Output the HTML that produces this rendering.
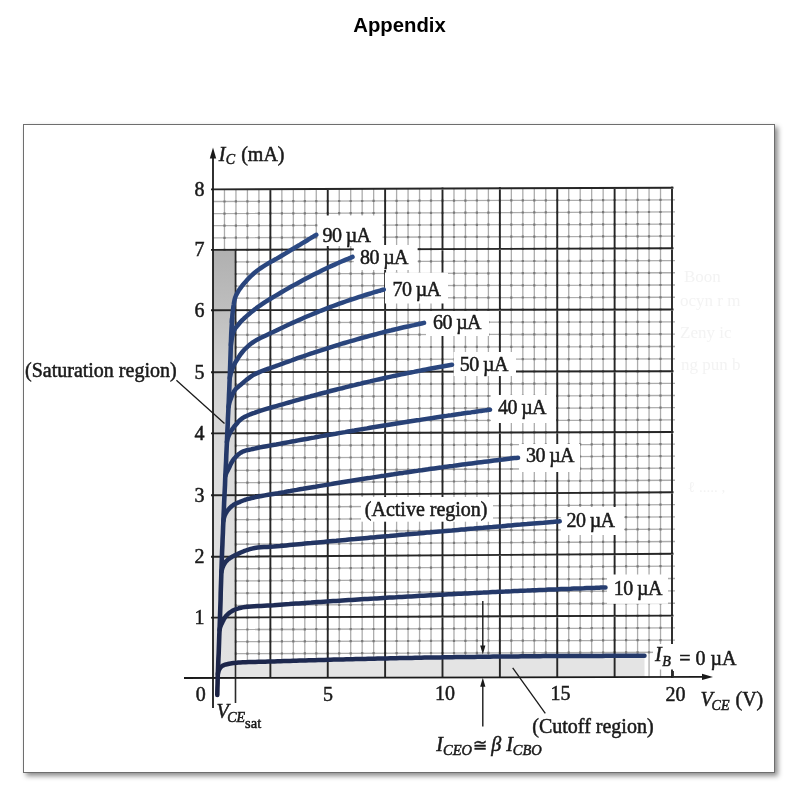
<!DOCTYPE html>
<html><head><meta charset="utf-8">
<style>
html,body{margin:0;padding:0;background:#fff;}
body{width:799px;height:807px;position:relative;overflow:hidden;}
.title{will-change:transform;position:absolute;left:0;top:0;width:799px;text-align:center;font-family:"Liberation Sans",sans-serif;font-weight:bold;font-size:20.3px;line-height:20px;top:15px;color:#000;}
.frame{position:absolute;left:23px;top:124px;width:750px;height:647px;border:1.5px solid #6e6e6e;box-shadow:3px 3px 5px rgba(0,0,0,0.45);background:#fff;}
svg{position:absolute;left:0;top:0;will-change:transform;}
svg text{font-family:"Liberation Serif",serif;fill:#1a1a1a;stroke:#1a1a1a;stroke-width:0.5px;}
svg .ghost text{fill:#f3f3f3;stroke:none;}
</style></head><body>
<div class="title">Appendix</div>
<div class="frame"></div>
<svg width="799" height="807" viewBox="0 0 799 807">
<defs><linearGradient id="sat" x1="0" y1="0" x2="0" y2="1"><stop offset="0" stop-color="#b0b0b0"/><stop offset="0.14" stop-color="#bebebe"/><stop offset="0.28" stop-color="#d0d0d0"/><stop offset="0.5" stop-color="#dcdcdc"/><stop offset="1" stop-color="#e2e2e2"/></linearGradient></defs>
<rect x="213" y="249.9" width="22.5" height="427.9" fill="url(#sat)"/>
<path d="M217.5,677.0 C217.7,676.0 217.9,672.7 218.5,671.0 C219.1,669.3 219.6,668.1 221.0,667.0 C222.4,665.9 223.8,665.2 227.0,664.5 C230.2,663.8 232.9,663.3 240.1,662.8 C247.3,662.3 257.6,661.8 270.1,661.3 C282.6,660.8 290.0,660.3 315.0,659.8 C340.0,659.2 365.1,658.7 420.0,658.0 C474.9,657.3 607.1,656.2 644.5,655.8 L644.5,677.5 L217.5,677.5 Z" fill="#e4e4e4"/>
<path d="M224.47,189.36 V249.86 M235.95,189.32 V662.63 M247.43,189.27 V662.23 M258.90,189.23 V661.85 M281.85,189.15 V661.12 M293.32,189.10 V660.78 M304.80,189.06 V660.44 M316.27,189.02 V660.12 M339.23,188.93 V659.51 M350.70,188.89 V659.22 M362.17,188.85 V658.94 M373.65,188.81 V658.68 M396.60,188.72 V658.19 M408.07,188.68 V657.96 M419.55,188.64 V657.74 M431.02,188.59 V657.53 M453.98,188.51 V657.16 M465.45,188.47 V656.99 M476.93,188.42 V656.83 M488.40,188.38 V656.68 M511.35,188.30 V656.42 M522.83,188.25 V656.31 M534.30,188.21 V656.21 M545.77,188.17 V656.12 M568.72,188.09 V655.98 M580.20,188.04 V655.92 M591.67,188.00 V655.88 M603.15,187.96 V655.85 M626.10,187.87 V655.83 M637.58,187.83 V655.83 M649.05,187.79 V677.50 M660.52,187.75 V677.50 M235.5,653.65 L675,652.25 M235.5,641.60 L675,640.03 M235.5,629.55 L675,627.81 M235.5,605.31 L675,603.23 M235.5,593.12 L675,590.87 M235.5,580.94 L675,578.51 M235.5,568.75 L675,566.15 M235.5,544.26 L675,541.49 M235.5,531.96 L675,529.19 M235.5,519.66 L675,516.89 M235.5,507.36 L675,504.59 M235.5,482.71 L675,480.23 M235.5,470.37 L675,468.17 M235.5,458.02 L675,456.11 M235.5,445.68 L675,444.05 M235.5,421.10 L675,419.83 M235.5,408.86 L675,407.67 M235.5,396.62 L675,395.51 M235.5,384.39 L675,383.36 M235.5,359.75 L675,358.86 M235.5,347.36 L675,346.52 M235.5,334.96 L675,334.18 M235.5,322.56 L675,321.84 M235.5,298.10 L675,297.26 M235.5,286.03 L675,285.02 M235.5,273.96 L675,272.77 M235.5,261.89 L675,260.53 M213.0,237.80 L675,236.17 M213.0,225.70 L675,224.05 M213.0,213.60 L675,211.93 M213.0,201.50 L675,199.81" stroke="#acacac" stroke-width="1.3" fill="none"/>
<path d="M223.4,248.8h2.2v2.2h-2.2zM223.4,236.7h2.2v2.2h-2.2zM223.4,224.6h2.2v2.2h-2.2zM223.4,212.5h2.2v2.2h-2.2zM223.4,200.4h2.2v2.2h-2.2zM234.8,652.5h2.2v2.2h-2.2zM234.8,640.5h2.2v2.2h-2.2zM234.8,628.4h2.2v2.2h-2.2zM234.8,616.4h2.2v2.2h-2.2zM234.8,604.2h2.2v2.2h-2.2zM234.8,592.0h2.2v2.2h-2.2zM234.8,579.8h2.2v2.2h-2.2zM234.8,567.6h2.2v2.2h-2.2zM234.8,555.5h2.2v2.2h-2.2zM234.8,543.2h2.2v2.2h-2.2zM234.8,530.9h2.2v2.2h-2.2zM234.8,518.6h2.2v2.2h-2.2zM234.8,506.3h2.2v2.2h-2.2zM234.8,494.0h2.2v2.2h-2.2zM234.8,481.6h2.2v2.2h-2.2zM234.8,469.3h2.2v2.2h-2.2zM234.8,456.9h2.2v2.2h-2.2zM234.8,444.6h2.2v2.2h-2.2zM234.8,432.2h2.2v2.2h-2.2zM234.8,420.0h2.2v2.2h-2.2zM234.8,407.8h2.2v2.2h-2.2zM234.8,395.5h2.2v2.2h-2.2zM234.8,383.3h2.2v2.2h-2.2zM234.8,371.1h2.2v2.2h-2.2zM234.8,358.7h2.2v2.2h-2.2zM234.8,346.3h2.2v2.2h-2.2zM234.8,333.9h2.2v2.2h-2.2zM234.8,321.5h2.2v2.2h-2.2zM234.8,309.1h2.2v2.2h-2.2zM234.8,297.0h2.2v2.2h-2.2zM234.8,284.9h2.2v2.2h-2.2zM234.8,272.9h2.2v2.2h-2.2zM234.8,260.8h2.2v2.2h-2.2zM234.8,248.7h2.2v2.2h-2.2zM234.8,236.6h2.2v2.2h-2.2zM234.8,224.5h2.2v2.2h-2.2zM234.8,212.4h2.2v2.2h-2.2zM234.8,200.3h2.2v2.2h-2.2zM246.3,652.5h2.2v2.2h-2.2zM246.3,640.5h2.2v2.2h-2.2zM246.3,628.4h2.2v2.2h-2.2zM246.3,616.4h2.2v2.2h-2.2zM246.3,604.2h2.2v2.2h-2.2zM246.3,592.0h2.2v2.2h-2.2zM246.3,579.8h2.2v2.2h-2.2zM246.3,567.6h2.2v2.2h-2.2zM246.3,555.4h2.2v2.2h-2.2zM246.3,543.1h2.2v2.2h-2.2zM246.3,530.8h2.2v2.2h-2.2zM246.3,518.5h2.2v2.2h-2.2zM246.3,506.2h2.2v2.2h-2.2zM246.3,493.9h2.2v2.2h-2.2zM246.3,481.5h2.2v2.2h-2.2zM246.3,469.2h2.2v2.2h-2.2zM246.3,456.9h2.2v2.2h-2.2zM246.3,444.5h2.2v2.2h-2.2zM246.3,432.2h2.2v2.2h-2.2zM246.3,420.0h2.2v2.2h-2.2zM246.3,407.7h2.2v2.2h-2.2zM246.3,395.5h2.2v2.2h-2.2zM246.3,383.3h2.2v2.2h-2.2zM246.3,371.0h2.2v2.2h-2.2zM246.3,358.6h2.2v2.2h-2.2zM246.3,346.2h2.2v2.2h-2.2zM246.3,333.8h2.2v2.2h-2.2zM246.3,321.4h2.2v2.2h-2.2zM246.3,309.0h2.2v2.2h-2.2zM246.3,297.0h2.2v2.2h-2.2zM246.3,284.9h2.2v2.2h-2.2zM246.3,272.8h2.2v2.2h-2.2zM246.3,260.8h2.2v2.2h-2.2zM246.3,248.7h2.2v2.2h-2.2zM246.3,236.6h2.2v2.2h-2.2zM246.3,224.5h2.2v2.2h-2.2zM246.3,212.4h2.2v2.2h-2.2zM246.3,200.3h2.2v2.2h-2.2zM257.8,652.5h2.2v2.2h-2.2zM257.8,640.4h2.2v2.2h-2.2zM257.8,628.4h2.2v2.2h-2.2zM257.8,616.3h2.2v2.2h-2.2zM257.8,604.1h2.2v2.2h-2.2zM257.8,591.9h2.2v2.2h-2.2zM257.8,579.7h2.2v2.2h-2.2zM257.8,567.5h2.2v2.2h-2.2zM257.8,555.3h2.2v2.2h-2.2zM257.8,543.0h2.2v2.2h-2.2zM257.8,530.7h2.2v2.2h-2.2zM257.8,518.4h2.2v2.2h-2.2zM257.8,506.1h2.2v2.2h-2.2zM257.8,493.8h2.2v2.2h-2.2zM257.8,481.5h2.2v2.2h-2.2zM257.8,469.2h2.2v2.2h-2.2zM257.8,456.8h2.2v2.2h-2.2zM257.8,444.5h2.2v2.2h-2.2zM257.8,432.2h2.2v2.2h-2.2zM257.8,419.9h2.2v2.2h-2.2zM257.8,407.7h2.2v2.2h-2.2zM257.8,395.5h2.2v2.2h-2.2zM257.8,383.2h2.2v2.2h-2.2zM257.8,371.0h2.2v2.2h-2.2zM257.8,358.6h2.2v2.2h-2.2zM257.8,346.2h2.2v2.2h-2.2zM257.8,333.8h2.2v2.2h-2.2zM257.8,321.4h2.2v2.2h-2.2zM257.8,309.0h2.2v2.2h-2.2zM257.8,297.0h2.2v2.2h-2.2zM257.8,284.9h2.2v2.2h-2.2zM257.8,272.8h2.2v2.2h-2.2zM257.8,260.7h2.2v2.2h-2.2zM257.8,248.6h2.2v2.2h-2.2zM257.8,236.5h2.2v2.2h-2.2zM257.8,224.4h2.2v2.2h-2.2zM257.8,212.3h2.2v2.2h-2.2zM257.8,200.2h2.2v2.2h-2.2zM269.3,652.4h2.2v2.2h-2.2zM269.3,640.4h2.2v2.2h-2.2zM269.3,628.3h2.2v2.2h-2.2zM269.3,604.0h2.2v2.2h-2.2zM269.3,591.8h2.2v2.2h-2.2zM269.3,579.6h2.2v2.2h-2.2zM269.3,567.4h2.2v2.2h-2.2zM269.3,542.9h2.2v2.2h-2.2zM269.3,530.6h2.2v2.2h-2.2zM269.3,518.3h2.2v2.2h-2.2zM269.3,506.0h2.2v2.2h-2.2zM269.3,481.4h2.2v2.2h-2.2zM269.3,469.1h2.2v2.2h-2.2zM269.3,456.8h2.2v2.2h-2.2zM269.3,444.4h2.2v2.2h-2.2zM269.3,419.9h2.2v2.2h-2.2zM269.3,407.7h2.2v2.2h-2.2zM269.3,395.4h2.2v2.2h-2.2zM269.3,383.2h2.2v2.2h-2.2zM269.3,358.6h2.2v2.2h-2.2zM269.3,346.2h2.2v2.2h-2.2zM269.3,333.8h2.2v2.2h-2.2zM269.3,321.4h2.2v2.2h-2.2zM269.3,296.9h2.2v2.2h-2.2zM269.3,284.8h2.2v2.2h-2.2zM269.3,272.8h2.2v2.2h-2.2zM269.3,260.7h2.2v2.2h-2.2zM269.3,236.5h2.2v2.2h-2.2zM269.3,224.4h2.2v2.2h-2.2zM269.3,212.3h2.2v2.2h-2.2zM269.3,200.2h2.2v2.2h-2.2zM280.8,652.4h2.2v2.2h-2.2zM280.8,640.3h2.2v2.2h-2.2zM280.8,628.3h2.2v2.2h-2.2zM280.8,616.2h2.2v2.2h-2.2zM280.8,604.0h2.2v2.2h-2.2zM280.8,591.8h2.2v2.2h-2.2zM280.8,579.6h2.2v2.2h-2.2zM280.8,567.4h2.2v2.2h-2.2zM280.8,555.2h2.2v2.2h-2.2zM280.8,542.9h2.2v2.2h-2.2zM280.8,530.6h2.2v2.2h-2.2zM280.8,518.3h2.2v2.2h-2.2zM280.8,506.0h2.2v2.2h-2.2zM280.8,493.7h2.2v2.2h-2.2zM280.8,481.4h2.2v2.2h-2.2zM280.8,469.0h2.2v2.2h-2.2zM280.8,456.7h2.2v2.2h-2.2zM280.8,444.4h2.2v2.2h-2.2zM280.8,432.1h2.2v2.2h-2.2zM280.8,419.9h2.2v2.2h-2.2zM280.8,407.6h2.2v2.2h-2.2zM280.8,395.4h2.2v2.2h-2.2zM280.8,383.2h2.2v2.2h-2.2zM280.8,371.0h2.2v2.2h-2.2zM280.8,358.6h2.2v2.2h-2.2zM280.8,346.2h2.2v2.2h-2.2zM280.8,333.8h2.2v2.2h-2.2zM280.8,321.4h2.2v2.2h-2.2zM280.8,309.0h2.2v2.2h-2.2zM280.8,296.9h2.2v2.2h-2.2zM280.8,284.8h2.2v2.2h-2.2zM280.8,272.7h2.2v2.2h-2.2zM280.8,260.6h2.2v2.2h-2.2zM280.8,248.6h2.2v2.2h-2.2zM280.8,236.5h2.2v2.2h-2.2zM280.8,224.4h2.2v2.2h-2.2zM280.8,212.3h2.2v2.2h-2.2zM280.8,200.1h2.2v2.2h-2.2zM292.2,652.4h2.2v2.2h-2.2zM292.2,640.3h2.2v2.2h-2.2zM292.2,628.2h2.2v2.2h-2.2zM292.2,616.2h2.2v2.2h-2.2zM292.2,603.9h2.2v2.2h-2.2zM292.2,591.7h2.2v2.2h-2.2zM292.2,579.5h2.2v2.2h-2.2zM292.2,567.3h2.2v2.2h-2.2zM292.2,555.1h2.2v2.2h-2.2zM292.2,542.8h2.2v2.2h-2.2zM292.2,530.5h2.2v2.2h-2.2zM292.2,518.2h2.2v2.2h-2.2zM292.2,505.9h2.2v2.2h-2.2zM292.2,493.6h2.2v2.2h-2.2zM292.2,481.3h2.2v2.2h-2.2zM292.2,469.0h2.2v2.2h-2.2zM292.2,456.7h2.2v2.2h-2.2zM292.2,444.4h2.2v2.2h-2.2zM292.2,432.1h2.2v2.2h-2.2zM292.2,419.8h2.2v2.2h-2.2zM292.2,407.6h2.2v2.2h-2.2zM292.2,395.4h2.2v2.2h-2.2zM292.2,383.2h2.2v2.2h-2.2zM292.2,370.9h2.2v2.2h-2.2zM292.2,358.5h2.2v2.2h-2.2zM292.2,346.1h2.2v2.2h-2.2zM292.2,333.8h2.2v2.2h-2.2zM292.2,321.4h2.2v2.2h-2.2zM292.2,309.0h2.2v2.2h-2.2zM292.2,296.9h2.2v2.2h-2.2zM292.2,284.8h2.2v2.2h-2.2zM292.2,272.7h2.2v2.2h-2.2zM292.2,260.6h2.2v2.2h-2.2zM292.2,248.5h2.2v2.2h-2.2zM292.2,236.4h2.2v2.2h-2.2zM292.2,224.3h2.2v2.2h-2.2zM292.2,212.2h2.2v2.2h-2.2zM292.2,200.1h2.2v2.2h-2.2zM303.7,652.3h2.2v2.2h-2.2zM303.7,640.3h2.2v2.2h-2.2zM303.7,628.2h2.2v2.2h-2.2zM303.7,616.1h2.2v2.2h-2.2zM303.7,603.9h2.2v2.2h-2.2zM303.7,591.7h2.2v2.2h-2.2zM303.7,579.5h2.2v2.2h-2.2zM303.7,567.2h2.2v2.2h-2.2zM303.7,555.0h2.2v2.2h-2.2zM303.7,542.7h2.2v2.2h-2.2zM303.7,530.4h2.2v2.2h-2.2zM303.7,518.1h2.2v2.2h-2.2zM303.7,505.8h2.2v2.2h-2.2zM303.7,493.5h2.2v2.2h-2.2zM303.7,481.2h2.2v2.2h-2.2zM303.7,468.9h2.2v2.2h-2.2zM303.7,456.6h2.2v2.2h-2.2zM303.7,444.3h2.2v2.2h-2.2zM303.7,432.0h2.2v2.2h-2.2zM303.7,419.8h2.2v2.2h-2.2zM303.7,407.6h2.2v2.2h-2.2zM303.7,395.3h2.2v2.2h-2.2zM303.7,383.1h2.2v2.2h-2.2zM303.7,370.9h2.2v2.2h-2.2zM303.7,358.5h2.2v2.2h-2.2zM303.7,346.1h2.2v2.2h-2.2zM303.7,333.7h2.2v2.2h-2.2zM303.7,321.3h2.2v2.2h-2.2zM303.7,309.0h2.2v2.2h-2.2zM303.7,296.9h2.2v2.2h-2.2zM303.7,284.8h2.2v2.2h-2.2zM303.7,272.7h2.2v2.2h-2.2zM303.7,260.6h2.2v2.2h-2.2zM303.7,248.5h2.2v2.2h-2.2zM303.7,236.4h2.2v2.2h-2.2zM303.7,224.3h2.2v2.2h-2.2zM303.7,212.2h2.2v2.2h-2.2zM303.7,200.1h2.2v2.2h-2.2zM315.2,652.3h2.2v2.2h-2.2zM315.2,640.2h2.2v2.2h-2.2zM315.2,628.1h2.2v2.2h-2.2zM315.2,616.1h2.2v2.2h-2.2zM315.2,603.8h2.2v2.2h-2.2zM315.2,591.6h2.2v2.2h-2.2zM315.2,579.4h2.2v2.2h-2.2zM315.2,567.2h2.2v2.2h-2.2zM315.2,554.9h2.2v2.2h-2.2zM315.2,542.6h2.2v2.2h-2.2zM315.2,530.3h2.2v2.2h-2.2zM315.2,518.0h2.2v2.2h-2.2zM315.2,505.7h2.2v2.2h-2.2zM315.2,493.4h2.2v2.2h-2.2zM315.2,481.2h2.2v2.2h-2.2zM315.2,468.9h2.2v2.2h-2.2zM315.2,456.6h2.2v2.2h-2.2zM315.2,444.3h2.2v2.2h-2.2zM315.2,432.0h2.2v2.2h-2.2zM315.2,419.8h2.2v2.2h-2.2zM315.2,407.5h2.2v2.2h-2.2zM315.2,395.3h2.2v2.2h-2.2zM315.2,383.1h2.2v2.2h-2.2zM315.2,370.9h2.2v2.2h-2.2zM315.2,358.5h2.2v2.2h-2.2zM315.2,346.1h2.2v2.2h-2.2zM315.2,333.7h2.2v2.2h-2.2zM315.2,321.3h2.2v2.2h-2.2zM315.2,308.9h2.2v2.2h-2.2zM315.2,296.8h2.2v2.2h-2.2zM315.2,284.7h2.2v2.2h-2.2zM315.2,272.6h2.2v2.2h-2.2zM315.2,260.5h2.2v2.2h-2.2zM315.2,248.4h2.2v2.2h-2.2zM315.2,236.3h2.2v2.2h-2.2zM315.2,224.2h2.2v2.2h-2.2zM315.2,212.1h2.2v2.2h-2.2zM315.2,200.0h2.2v2.2h-2.2zM326.6,652.3h2.2v2.2h-2.2zM326.6,640.2h2.2v2.2h-2.2zM326.6,628.1h2.2v2.2h-2.2zM326.6,603.8h2.2v2.2h-2.2zM326.6,591.6h2.2v2.2h-2.2zM326.6,579.3h2.2v2.2h-2.2zM326.6,567.1h2.2v2.2h-2.2zM326.6,542.6h2.2v2.2h-2.2zM326.6,530.3h2.2v2.2h-2.2zM326.6,518.0h2.2v2.2h-2.2zM326.6,505.7h2.2v2.2h-2.2zM326.6,481.1h2.2v2.2h-2.2zM326.6,468.8h2.2v2.2h-2.2zM326.6,456.5h2.2v2.2h-2.2zM326.6,444.2h2.2v2.2h-2.2zM326.6,419.7h2.2v2.2h-2.2zM326.6,407.5h2.2v2.2h-2.2zM326.6,395.3h2.2v2.2h-2.2zM326.6,383.1h2.2v2.2h-2.2zM326.6,358.5h2.2v2.2h-2.2zM326.6,346.1h2.2v2.2h-2.2zM326.6,333.7h2.2v2.2h-2.2zM326.6,321.3h2.2v2.2h-2.2zM326.6,296.8h2.2v2.2h-2.2zM326.6,284.7h2.2v2.2h-2.2zM326.6,272.6h2.2v2.2h-2.2zM326.6,260.5h2.2v2.2h-2.2zM326.6,236.3h2.2v2.2h-2.2zM326.6,224.2h2.2v2.2h-2.2zM326.6,212.1h2.2v2.2h-2.2zM326.6,200.0h2.2v2.2h-2.2zM338.1,652.2h2.2v2.2h-2.2zM338.1,640.1h2.2v2.2h-2.2zM338.1,628.0h2.2v2.2h-2.2zM338.1,616.0h2.2v2.2h-2.2zM338.1,603.7h2.2v2.2h-2.2zM338.1,591.5h2.2v2.2h-2.2zM338.1,579.3h2.2v2.2h-2.2zM338.1,567.0h2.2v2.2h-2.2zM338.1,554.8h2.2v2.2h-2.2zM338.1,542.5h2.2v2.2h-2.2zM338.1,530.2h2.2v2.2h-2.2zM338.1,517.9h2.2v2.2h-2.2zM338.1,505.6h2.2v2.2h-2.2zM338.1,493.3h2.2v2.2h-2.2zM338.1,481.0h2.2v2.2h-2.2zM338.1,468.7h2.2v2.2h-2.2zM338.1,456.5h2.2v2.2h-2.2zM338.1,444.2h2.2v2.2h-2.2zM338.1,431.9h2.2v2.2h-2.2zM338.1,419.7h2.2v2.2h-2.2zM338.1,407.5h2.2v2.2h-2.2zM338.1,395.3h2.2v2.2h-2.2zM338.1,383.0h2.2v2.2h-2.2zM338.1,370.8h2.2v2.2h-2.2zM338.1,358.4h2.2v2.2h-2.2zM338.1,346.1h2.2v2.2h-2.2zM338.1,333.7h2.2v2.2h-2.2zM338.1,321.3h2.2v2.2h-2.2zM338.1,308.9h2.2v2.2h-2.2zM338.1,296.8h2.2v2.2h-2.2zM338.1,284.7h2.2v2.2h-2.2zM338.1,272.6h2.2v2.2h-2.2zM338.1,260.5h2.2v2.2h-2.2zM338.1,248.4h2.2v2.2h-2.2zM338.1,236.3h2.2v2.2h-2.2zM338.1,224.1h2.2v2.2h-2.2zM338.1,212.0h2.2v2.2h-2.2zM338.1,199.9h2.2v2.2h-2.2zM349.6,652.2h2.2v2.2h-2.2zM349.6,640.1h2.2v2.2h-2.2zM349.6,628.0h2.2v2.2h-2.2zM349.6,615.9h2.2v2.2h-2.2zM349.6,603.7h2.2v2.2h-2.2zM349.6,591.4h2.2v2.2h-2.2zM349.6,579.2h2.2v2.2h-2.2zM349.6,567.0h2.2v2.2h-2.2zM349.6,554.7h2.2v2.2h-2.2zM349.6,542.4h2.2v2.2h-2.2zM349.6,530.1h2.2v2.2h-2.2zM349.6,517.8h2.2v2.2h-2.2zM349.6,505.5h2.2v2.2h-2.2zM349.6,493.2h2.2v2.2h-2.2zM349.6,481.0h2.2v2.2h-2.2zM349.6,468.7h2.2v2.2h-2.2zM349.6,456.4h2.2v2.2h-2.2zM349.6,444.2h2.2v2.2h-2.2zM349.6,431.9h2.2v2.2h-2.2zM349.6,419.7h2.2v2.2h-2.2zM349.6,407.4h2.2v2.2h-2.2zM349.6,395.2h2.2v2.2h-2.2zM349.6,383.0h2.2v2.2h-2.2zM349.6,370.8h2.2v2.2h-2.2zM349.6,358.4h2.2v2.2h-2.2zM349.6,346.0h2.2v2.2h-2.2zM349.6,333.7h2.2v2.2h-2.2zM349.6,321.3h2.2v2.2h-2.2zM349.6,308.9h2.2v2.2h-2.2zM349.6,296.8h2.2v2.2h-2.2zM349.6,284.7h2.2v2.2h-2.2zM349.6,272.5h2.2v2.2h-2.2zM349.6,260.4h2.2v2.2h-2.2zM349.6,248.3h2.2v2.2h-2.2zM349.6,236.2h2.2v2.2h-2.2zM349.6,224.1h2.2v2.2h-2.2zM349.6,212.0h2.2v2.2h-2.2zM349.6,199.9h2.2v2.2h-2.2zM361.1,652.1h2.2v2.2h-2.2zM361.1,640.0h2.2v2.2h-2.2zM361.1,627.9h2.2v2.2h-2.2zM361.1,615.9h2.2v2.2h-2.2zM361.1,603.6h2.2v2.2h-2.2zM361.1,591.4h2.2v2.2h-2.2zM361.1,579.1h2.2v2.2h-2.2zM361.1,566.9h2.2v2.2h-2.2zM361.1,554.7h2.2v2.2h-2.2zM361.1,542.4h2.2v2.2h-2.2zM361.1,530.1h2.2v2.2h-2.2zM361.1,517.8h2.2v2.2h-2.2zM361.1,505.5h2.2v2.2h-2.2zM361.1,493.2h2.2v2.2h-2.2zM361.1,480.9h2.2v2.2h-2.2zM361.1,468.6h2.2v2.2h-2.2zM361.1,456.4h2.2v2.2h-2.2zM361.1,444.1h2.2v2.2h-2.2zM361.1,431.8h2.2v2.2h-2.2zM361.1,419.6h2.2v2.2h-2.2zM361.1,407.4h2.2v2.2h-2.2zM361.1,395.2h2.2v2.2h-2.2zM361.1,383.0h2.2v2.2h-2.2zM361.1,370.8h2.2v2.2h-2.2zM361.1,358.4h2.2v2.2h-2.2zM361.1,346.0h2.2v2.2h-2.2zM361.1,333.6h2.2v2.2h-2.2zM361.1,321.3h2.2v2.2h-2.2zM361.1,308.9h2.2v2.2h-2.2zM361.1,296.8h2.2v2.2h-2.2zM361.1,284.6h2.2v2.2h-2.2zM361.1,272.5h2.2v2.2h-2.2zM361.1,260.4h2.2v2.2h-2.2zM361.1,248.3h2.2v2.2h-2.2zM361.1,236.2h2.2v2.2h-2.2zM361.1,224.1h2.2v2.2h-2.2zM361.1,212.0h2.2v2.2h-2.2zM361.1,199.9h2.2v2.2h-2.2zM372.5,652.1h2.2v2.2h-2.2zM372.5,640.0h2.2v2.2h-2.2zM372.5,627.9h2.2v2.2h-2.2zM372.5,615.8h2.2v2.2h-2.2zM372.5,603.6h2.2v2.2h-2.2zM372.5,591.3h2.2v2.2h-2.2zM372.5,579.1h2.2v2.2h-2.2zM372.5,566.8h2.2v2.2h-2.2zM372.5,554.6h2.2v2.2h-2.2zM372.5,542.3h2.2v2.2h-2.2zM372.5,530.0h2.2v2.2h-2.2zM372.5,517.7h2.2v2.2h-2.2zM372.5,505.4h2.2v2.2h-2.2zM372.5,493.1h2.2v2.2h-2.2zM372.5,480.8h2.2v2.2h-2.2zM372.5,468.6h2.2v2.2h-2.2zM372.5,456.3h2.2v2.2h-2.2zM372.5,444.1h2.2v2.2h-2.2zM372.5,431.8h2.2v2.2h-2.2zM372.5,419.6h2.2v2.2h-2.2zM372.5,407.4h2.2v2.2h-2.2zM372.5,395.2h2.2v2.2h-2.2zM372.5,383.0h2.2v2.2h-2.2zM372.5,370.8h2.2v2.2h-2.2zM372.5,358.4h2.2v2.2h-2.2zM372.5,346.0h2.2v2.2h-2.2zM372.5,333.6h2.2v2.2h-2.2zM372.5,321.2h2.2v2.2h-2.2zM372.5,308.9h2.2v2.2h-2.2zM372.5,296.7h2.2v2.2h-2.2zM372.5,284.6h2.2v2.2h-2.2zM372.5,272.5h2.2v2.2h-2.2zM372.5,260.4h2.2v2.2h-2.2zM372.5,248.2h2.2v2.2h-2.2zM372.5,236.1h2.2v2.2h-2.2zM372.5,224.0h2.2v2.2h-2.2zM372.5,211.9h2.2v2.2h-2.2zM372.5,199.8h2.2v2.2h-2.2zM384.0,652.1h2.2v2.2h-2.2zM384.0,640.0h2.2v2.2h-2.2zM384.0,627.9h2.2v2.2h-2.2zM384.0,603.5h2.2v2.2h-2.2zM384.0,591.3h2.2v2.2h-2.2zM384.0,579.0h2.2v2.2h-2.2zM384.0,566.8h2.2v2.2h-2.2zM384.0,542.2h2.2v2.2h-2.2zM384.0,529.9h2.2v2.2h-2.2zM384.0,517.6h2.2v2.2h-2.2zM384.0,505.3h2.2v2.2h-2.2zM384.0,480.8h2.2v2.2h-2.2zM384.0,468.5h2.2v2.2h-2.2zM384.0,456.3h2.2v2.2h-2.2zM384.0,444.0h2.2v2.2h-2.2zM384.0,419.6h2.2v2.2h-2.2zM384.0,407.4h2.2v2.2h-2.2zM384.0,395.1h2.2v2.2h-2.2zM384.0,382.9h2.2v2.2h-2.2zM384.0,358.3h2.2v2.2h-2.2zM384.0,346.0h2.2v2.2h-2.2zM384.0,333.6h2.2v2.2h-2.2zM384.0,321.2h2.2v2.2h-2.2zM384.0,296.7h2.2v2.2h-2.2zM384.0,284.6h2.2v2.2h-2.2zM384.0,272.5h2.2v2.2h-2.2zM384.0,260.3h2.2v2.2h-2.2zM384.0,236.1h2.2v2.2h-2.2zM384.0,224.0h2.2v2.2h-2.2zM384.0,211.9h2.2v2.2h-2.2zM384.0,199.8h2.2v2.2h-2.2zM395.5,652.0h2.2v2.2h-2.2zM395.5,639.9h2.2v2.2h-2.2zM395.5,627.8h2.2v2.2h-2.2zM395.5,615.7h2.2v2.2h-2.2zM395.5,603.4h2.2v2.2h-2.2zM395.5,591.2h2.2v2.2h-2.2zM395.5,578.9h2.2v2.2h-2.2zM395.5,566.7h2.2v2.2h-2.2zM395.5,554.4h2.2v2.2h-2.2zM395.5,542.1h2.2v2.2h-2.2zM395.5,529.8h2.2v2.2h-2.2zM395.5,517.5h2.2v2.2h-2.2zM395.5,505.2h2.2v2.2h-2.2zM395.5,492.9h2.2v2.2h-2.2zM395.5,480.7h2.2v2.2h-2.2zM395.5,468.5h2.2v2.2h-2.2zM395.5,456.2h2.2v2.2h-2.2zM395.5,444.0h2.2v2.2h-2.2zM395.5,431.7h2.2v2.2h-2.2zM395.5,419.5h2.2v2.2h-2.2zM395.5,407.3h2.2v2.2h-2.2zM395.5,395.1h2.2v2.2h-2.2zM395.5,382.9h2.2v2.2h-2.2zM395.5,370.7h2.2v2.2h-2.2zM395.5,358.3h2.2v2.2h-2.2zM395.5,345.9h2.2v2.2h-2.2zM395.5,333.6h2.2v2.2h-2.2zM395.5,321.2h2.2v2.2h-2.2zM395.5,308.8h2.2v2.2h-2.2zM395.5,296.7h2.2v2.2h-2.2zM395.5,284.6h2.2v2.2h-2.2zM395.5,272.4h2.2v2.2h-2.2zM395.5,260.3h2.2v2.2h-2.2zM395.5,248.2h2.2v2.2h-2.2zM395.5,236.1h2.2v2.2h-2.2zM395.5,223.9h2.2v2.2h-2.2zM395.5,211.8h2.2v2.2h-2.2zM395.5,199.7h2.2v2.2h-2.2zM407.0,652.0h2.2v2.2h-2.2zM407.0,639.9h2.2v2.2h-2.2zM407.0,627.8h2.2v2.2h-2.2zM407.0,615.7h2.2v2.2h-2.2zM407.0,603.4h2.2v2.2h-2.2zM407.0,591.1h2.2v2.2h-2.2zM407.0,578.9h2.2v2.2h-2.2zM407.0,566.6h2.2v2.2h-2.2zM407.0,554.4h2.2v2.2h-2.2zM407.0,542.1h2.2v2.2h-2.2zM407.0,529.8h2.2v2.2h-2.2zM407.0,517.5h2.2v2.2h-2.2zM407.0,505.2h2.2v2.2h-2.2zM407.0,492.9h2.2v2.2h-2.2zM407.0,480.6h2.2v2.2h-2.2zM407.0,468.4h2.2v2.2h-2.2zM407.0,456.2h2.2v2.2h-2.2zM407.0,443.9h2.2v2.2h-2.2zM407.0,431.7h2.2v2.2h-2.2zM407.0,419.5h2.2v2.2h-2.2zM407.0,407.3h2.2v2.2h-2.2zM407.0,395.1h2.2v2.2h-2.2zM407.0,382.9h2.2v2.2h-2.2zM407.0,370.7h2.2v2.2h-2.2zM407.0,358.3h2.2v2.2h-2.2zM407.0,345.9h2.2v2.2h-2.2zM407.0,333.6h2.2v2.2h-2.2zM407.0,321.2h2.2v2.2h-2.2zM407.0,308.8h2.2v2.2h-2.2zM407.0,296.7h2.2v2.2h-2.2zM407.0,284.5h2.2v2.2h-2.2zM407.0,272.4h2.2v2.2h-2.2zM407.0,260.3h2.2v2.2h-2.2zM407.0,248.1h2.2v2.2h-2.2zM407.0,236.0h2.2v2.2h-2.2zM407.0,223.9h2.2v2.2h-2.2zM407.0,211.8h2.2v2.2h-2.2zM407.0,199.7h2.2v2.2h-2.2zM418.4,652.0h2.2v2.2h-2.2zM418.4,639.8h2.2v2.2h-2.2zM418.4,627.7h2.2v2.2h-2.2zM418.4,615.6h2.2v2.2h-2.2zM418.4,603.3h2.2v2.2h-2.2zM418.4,591.1h2.2v2.2h-2.2zM418.4,578.8h2.2v2.2h-2.2zM418.4,566.6h2.2v2.2h-2.2zM418.4,554.3h2.2v2.2h-2.2zM418.4,542.0h2.2v2.2h-2.2zM418.4,529.7h2.2v2.2h-2.2zM418.4,517.4h2.2v2.2h-2.2zM418.4,505.1h2.2v2.2h-2.2zM418.4,492.8h2.2v2.2h-2.2zM418.4,480.6h2.2v2.2h-2.2zM418.4,468.3h2.2v2.2h-2.2zM418.4,456.1h2.2v2.2h-2.2zM418.4,443.9h2.2v2.2h-2.2zM418.4,431.7h2.2v2.2h-2.2zM418.4,419.5h2.2v2.2h-2.2zM418.4,407.3h2.2v2.2h-2.2zM418.4,395.1h2.2v2.2h-2.2zM418.4,382.9h2.2v2.2h-2.2zM418.4,370.7h2.2v2.2h-2.2zM418.4,358.3h2.2v2.2h-2.2zM418.4,345.9h2.2v2.2h-2.2zM418.4,333.5h2.2v2.2h-2.2zM418.4,321.2h2.2v2.2h-2.2zM418.4,308.8h2.2v2.2h-2.2zM418.4,296.6h2.2v2.2h-2.2zM418.4,284.5h2.2v2.2h-2.2zM418.4,272.4h2.2v2.2h-2.2zM418.4,260.2h2.2v2.2h-2.2zM418.4,248.1h2.2v2.2h-2.2zM418.4,236.0h2.2v2.2h-2.2zM418.4,223.9h2.2v2.2h-2.2zM418.4,211.8h2.2v2.2h-2.2zM418.4,199.6h2.2v2.2h-2.2zM429.9,651.9h2.2v2.2h-2.2zM429.9,639.8h2.2v2.2h-2.2zM429.9,627.7h2.2v2.2h-2.2zM429.9,615.6h2.2v2.2h-2.2zM429.9,603.3h2.2v2.2h-2.2zM429.9,591.0h2.2v2.2h-2.2zM429.9,578.8h2.2v2.2h-2.2zM429.9,566.5h2.2v2.2h-2.2zM429.9,554.2h2.2v2.2h-2.2zM429.9,541.9h2.2v2.2h-2.2zM429.9,529.6h2.2v2.2h-2.2zM429.9,517.3h2.2v2.2h-2.2zM429.9,505.0h2.2v2.2h-2.2zM429.9,492.7h2.2v2.2h-2.2zM429.9,480.5h2.2v2.2h-2.2zM429.9,468.3h2.2v2.2h-2.2zM429.9,456.1h2.2v2.2h-2.2zM429.9,443.9h2.2v2.2h-2.2zM429.9,431.6h2.2v2.2h-2.2zM429.9,419.4h2.2v2.2h-2.2zM429.9,407.2h2.2v2.2h-2.2zM429.9,395.0h2.2v2.2h-2.2zM429.9,382.8h2.2v2.2h-2.2zM429.9,370.6h2.2v2.2h-2.2zM429.9,358.3h2.2v2.2h-2.2zM429.9,345.9h2.2v2.2h-2.2zM429.9,333.5h2.2v2.2h-2.2zM429.9,321.1h2.2v2.2h-2.2zM429.9,308.8h2.2v2.2h-2.2zM429.9,296.6h2.2v2.2h-2.2zM429.9,284.5h2.2v2.2h-2.2zM429.9,272.3h2.2v2.2h-2.2zM429.9,260.2h2.2v2.2h-2.2zM429.9,248.0h2.2v2.2h-2.2zM429.9,235.9h2.2v2.2h-2.2zM429.9,223.8h2.2v2.2h-2.2zM429.9,211.7h2.2v2.2h-2.2zM429.9,199.6h2.2v2.2h-2.2zM441.4,651.9h2.2v2.2h-2.2zM441.4,639.8h2.2v2.2h-2.2zM441.4,627.6h2.2v2.2h-2.2zM441.4,603.2h2.2v2.2h-2.2zM441.4,591.0h2.2v2.2h-2.2zM441.4,578.7h2.2v2.2h-2.2zM441.4,566.4h2.2v2.2h-2.2zM441.4,541.9h2.2v2.2h-2.2zM441.4,529.6h2.2v2.2h-2.2zM441.4,517.3h2.2v2.2h-2.2zM441.4,505.0h2.2v2.2h-2.2zM441.4,480.4h2.2v2.2h-2.2zM441.4,468.2h2.2v2.2h-2.2zM441.4,456.0h2.2v2.2h-2.2zM441.4,443.8h2.2v2.2h-2.2zM441.4,419.4h2.2v2.2h-2.2zM441.4,407.2h2.2v2.2h-2.2zM441.4,395.0h2.2v2.2h-2.2zM441.4,382.8h2.2v2.2h-2.2zM441.4,358.2h2.2v2.2h-2.2zM441.4,345.9h2.2v2.2h-2.2zM441.4,333.5h2.2v2.2h-2.2zM441.4,321.1h2.2v2.2h-2.2zM441.4,296.6h2.2v2.2h-2.2zM441.4,284.5h2.2v2.2h-2.2zM441.4,272.3h2.2v2.2h-2.2zM441.4,260.2h2.2v2.2h-2.2zM441.4,235.9h2.2v2.2h-2.2zM441.4,223.8h2.2v2.2h-2.2zM441.4,211.7h2.2v2.2h-2.2zM441.4,199.6h2.2v2.2h-2.2zM452.9,651.9h2.2v2.2h-2.2zM452.9,639.7h2.2v2.2h-2.2zM452.9,627.6h2.2v2.2h-2.2zM452.9,615.5h2.2v2.2h-2.2zM452.9,603.2h2.2v2.2h-2.2zM452.9,590.9h2.2v2.2h-2.2zM452.9,578.6h2.2v2.2h-2.2zM452.9,566.4h2.2v2.2h-2.2zM452.9,554.1h2.2v2.2h-2.2zM452.9,541.8h2.2v2.2h-2.2zM452.9,529.5h2.2v2.2h-2.2zM452.9,517.2h2.2v2.2h-2.2zM452.9,504.9h2.2v2.2h-2.2zM452.9,492.6h2.2v2.2h-2.2zM452.9,480.4h2.2v2.2h-2.2zM452.9,468.2h2.2v2.2h-2.2zM452.9,456.0h2.2v2.2h-2.2zM452.9,443.8h2.2v2.2h-2.2zM452.9,431.6h2.2v2.2h-2.2zM452.9,419.4h2.2v2.2h-2.2zM452.9,407.2h2.2v2.2h-2.2zM452.9,395.0h2.2v2.2h-2.2zM452.9,382.8h2.2v2.2h-2.2zM452.9,370.6h2.2v2.2h-2.2zM452.9,358.2h2.2v2.2h-2.2zM452.9,345.8h2.2v2.2h-2.2zM452.9,333.5h2.2v2.2h-2.2zM452.9,321.1h2.2v2.2h-2.2zM452.9,308.7h2.2v2.2h-2.2zM452.9,296.6h2.2v2.2h-2.2zM452.9,284.4h2.2v2.2h-2.2zM452.9,272.3h2.2v2.2h-2.2zM452.9,260.1h2.2v2.2h-2.2zM452.9,248.0h2.2v2.2h-2.2zM452.9,235.9h2.2v2.2h-2.2zM452.9,223.7h2.2v2.2h-2.2zM452.9,211.6h2.2v2.2h-2.2zM452.9,199.5h2.2v2.2h-2.2zM464.3,651.8h2.2v2.2h-2.2zM464.3,639.7h2.2v2.2h-2.2zM464.3,627.5h2.2v2.2h-2.2zM464.3,615.4h2.2v2.2h-2.2zM464.3,603.1h2.2v2.2h-2.2zM464.3,590.8h2.2v2.2h-2.2zM464.3,578.6h2.2v2.2h-2.2zM464.3,566.3h2.2v2.2h-2.2zM464.3,554.0h2.2v2.2h-2.2zM464.3,541.7h2.2v2.2h-2.2zM464.3,529.4h2.2v2.2h-2.2zM464.3,517.1h2.2v2.2h-2.2zM464.3,504.8h2.2v2.2h-2.2zM464.3,492.5h2.2v2.2h-2.2zM464.3,480.3h2.2v2.2h-2.2zM464.3,468.1h2.2v2.2h-2.2zM464.3,455.9h2.2v2.2h-2.2zM464.3,443.7h2.2v2.2h-2.2zM464.3,431.5h2.2v2.2h-2.2zM464.3,419.3h2.2v2.2h-2.2zM464.3,407.1h2.2v2.2h-2.2zM464.3,394.9h2.2v2.2h-2.2zM464.3,382.7h2.2v2.2h-2.2zM464.3,370.6h2.2v2.2h-2.2zM464.3,358.2h2.2v2.2h-2.2zM464.3,345.8h2.2v2.2h-2.2zM464.3,333.4h2.2v2.2h-2.2zM464.3,321.1h2.2v2.2h-2.2zM464.3,308.7h2.2v2.2h-2.2zM464.3,296.6h2.2v2.2h-2.2zM464.3,284.4h2.2v2.2h-2.2zM464.3,272.2h2.2v2.2h-2.2zM464.3,260.1h2.2v2.2h-2.2zM464.3,247.9h2.2v2.2h-2.2zM464.3,235.8h2.2v2.2h-2.2zM464.3,223.7h2.2v2.2h-2.2zM464.3,211.6h2.2v2.2h-2.2zM464.3,199.5h2.2v2.2h-2.2zM475.8,651.8h2.2v2.2h-2.2zM475.8,639.6h2.2v2.2h-2.2zM475.8,627.5h2.2v2.2h-2.2zM475.8,615.4h2.2v2.2h-2.2zM475.8,603.1h2.2v2.2h-2.2zM475.8,590.8h2.2v2.2h-2.2zM475.8,578.5h2.2v2.2h-2.2zM475.8,566.2h2.2v2.2h-2.2zM475.8,553.9h2.2v2.2h-2.2zM475.8,541.6h2.2v2.2h-2.2zM475.8,529.3h2.2v2.2h-2.2zM475.8,517.0h2.2v2.2h-2.2zM475.8,504.7h2.2v2.2h-2.2zM475.8,492.4h2.2v2.2h-2.2zM475.8,480.2h2.2v2.2h-2.2zM475.8,468.1h2.2v2.2h-2.2zM475.8,455.9h2.2v2.2h-2.2zM475.8,443.7h2.2v2.2h-2.2zM475.8,431.5h2.2v2.2h-2.2zM475.8,419.3h2.2v2.2h-2.2zM475.8,407.1h2.2v2.2h-2.2zM475.8,394.9h2.2v2.2h-2.2zM475.8,382.7h2.2v2.2h-2.2zM475.8,370.5h2.2v2.2h-2.2zM475.8,358.2h2.2v2.2h-2.2zM475.8,345.8h2.2v2.2h-2.2zM475.8,333.4h2.2v2.2h-2.2zM475.8,321.1h2.2v2.2h-2.2zM475.8,308.7h2.2v2.2h-2.2zM475.8,296.5h2.2v2.2h-2.2zM475.8,284.4h2.2v2.2h-2.2zM475.8,272.2h2.2v2.2h-2.2zM475.8,260.0h2.2v2.2h-2.2zM475.8,247.9h2.2v2.2h-2.2zM475.8,235.8h2.2v2.2h-2.2zM475.8,223.7h2.2v2.2h-2.2zM475.8,211.5h2.2v2.2h-2.2zM475.8,199.4h2.2v2.2h-2.2zM487.3,651.7h2.2v2.2h-2.2zM487.3,639.6h2.2v2.2h-2.2zM487.3,627.5h2.2v2.2h-2.2zM487.3,615.3h2.2v2.2h-2.2zM487.3,603.0h2.2v2.2h-2.2zM487.3,590.7h2.2v2.2h-2.2zM487.3,578.4h2.2v2.2h-2.2zM487.3,566.2h2.2v2.2h-2.2zM487.3,553.9h2.2v2.2h-2.2zM487.3,541.6h2.2v2.2h-2.2zM487.3,529.3h2.2v2.2h-2.2zM487.3,517.0h2.2v2.2h-2.2zM487.3,504.7h2.2v2.2h-2.2zM487.3,492.4h2.2v2.2h-2.2zM487.3,480.2h2.2v2.2h-2.2zM487.3,468.0h2.2v2.2h-2.2zM487.3,455.8h2.2v2.2h-2.2zM487.3,443.6h2.2v2.2h-2.2zM487.3,431.5h2.2v2.2h-2.2zM487.3,419.3h2.2v2.2h-2.2zM487.3,407.1h2.2v2.2h-2.2zM487.3,394.9h2.2v2.2h-2.2zM487.3,382.7h2.2v2.2h-2.2zM487.3,370.5h2.2v2.2h-2.2zM487.3,358.1h2.2v2.2h-2.2zM487.3,345.8h2.2v2.2h-2.2zM487.3,333.4h2.2v2.2h-2.2zM487.3,321.0h2.2v2.2h-2.2zM487.3,308.7h2.2v2.2h-2.2zM487.3,296.5h2.2v2.2h-2.2zM487.3,284.3h2.2v2.2h-2.2zM487.3,272.2h2.2v2.2h-2.2zM487.3,260.0h2.2v2.2h-2.2zM487.3,247.8h2.2v2.2h-2.2zM487.3,235.7h2.2v2.2h-2.2zM487.3,223.6h2.2v2.2h-2.2zM487.3,211.5h2.2v2.2h-2.2zM487.3,199.4h2.2v2.2h-2.2zM498.8,651.7h2.2v2.2h-2.2zM498.8,639.6h2.2v2.2h-2.2zM498.8,627.4h2.2v2.2h-2.2zM498.8,603.0h2.2v2.2h-2.2zM498.8,590.7h2.2v2.2h-2.2zM498.8,578.4h2.2v2.2h-2.2zM498.8,566.1h2.2v2.2h-2.2zM498.8,541.5h2.2v2.2h-2.2zM498.8,529.2h2.2v2.2h-2.2zM498.8,516.9h2.2v2.2h-2.2zM498.8,504.6h2.2v2.2h-2.2zM498.8,480.1h2.2v2.2h-2.2zM498.8,467.9h2.2v2.2h-2.2zM498.8,455.8h2.2v2.2h-2.2zM498.8,443.6h2.2v2.2h-2.2zM498.8,419.2h2.2v2.2h-2.2zM498.8,407.0h2.2v2.2h-2.2zM498.8,394.9h2.2v2.2h-2.2zM498.8,382.7h2.2v2.2h-2.2zM498.8,358.1h2.2v2.2h-2.2zM498.8,345.8h2.2v2.2h-2.2zM498.8,333.4h2.2v2.2h-2.2zM498.8,321.0h2.2v2.2h-2.2zM498.8,296.5h2.2v2.2h-2.2zM498.8,284.3h2.2v2.2h-2.2zM498.8,272.1h2.2v2.2h-2.2zM498.8,260.0h2.2v2.2h-2.2zM498.8,235.7h2.2v2.2h-2.2zM498.8,223.6h2.2v2.2h-2.2zM498.8,211.5h2.2v2.2h-2.2zM498.8,199.4h2.2v2.2h-2.2zM510.2,651.7h2.2v2.2h-2.2zM510.2,639.5h2.2v2.2h-2.2zM510.2,627.4h2.2v2.2h-2.2zM510.2,615.2h2.2v2.2h-2.2zM510.2,602.9h2.2v2.2h-2.2zM510.2,590.6h2.2v2.2h-2.2zM510.2,578.3h2.2v2.2h-2.2zM510.2,566.0h2.2v2.2h-2.2zM510.2,553.7h2.2v2.2h-2.2zM510.2,541.4h2.2v2.2h-2.2zM510.2,529.1h2.2v2.2h-2.2zM510.2,516.8h2.2v2.2h-2.2zM510.2,504.5h2.2v2.2h-2.2zM510.2,492.2h2.2v2.2h-2.2zM510.2,480.1h2.2v2.2h-2.2zM510.2,467.9h2.2v2.2h-2.2zM510.2,455.7h2.2v2.2h-2.2zM510.2,443.6h2.2v2.2h-2.2zM510.2,431.4h2.2v2.2h-2.2zM510.2,419.2h2.2v2.2h-2.2zM510.2,407.0h2.2v2.2h-2.2zM510.2,394.8h2.2v2.2h-2.2zM510.2,382.6h2.2v2.2h-2.2zM510.2,370.5h2.2v2.2h-2.2zM510.2,358.1h2.2v2.2h-2.2zM510.2,345.7h2.2v2.2h-2.2zM510.2,333.4h2.2v2.2h-2.2zM510.2,321.0h2.2v2.2h-2.2zM510.2,308.6h2.2v2.2h-2.2zM510.2,296.5h2.2v2.2h-2.2zM510.2,284.3h2.2v2.2h-2.2zM510.2,272.1h2.2v2.2h-2.2zM510.2,259.9h2.2v2.2h-2.2zM510.2,247.8h2.2v2.2h-2.2zM510.2,235.6h2.2v2.2h-2.2zM510.2,223.5h2.2v2.2h-2.2zM510.2,211.4h2.2v2.2h-2.2zM510.2,199.3h2.2v2.2h-2.2zM521.7,651.6h2.2v2.2h-2.2zM521.7,639.5h2.2v2.2h-2.2zM521.7,627.3h2.2v2.2h-2.2zM521.7,615.2h2.2v2.2h-2.2zM521.7,602.9h2.2v2.2h-2.2zM521.7,590.6h2.2v2.2h-2.2zM521.7,578.2h2.2v2.2h-2.2zM521.7,565.9h2.2v2.2h-2.2zM521.7,553.6h2.2v2.2h-2.2zM521.7,541.3h2.2v2.2h-2.2zM521.7,529.0h2.2v2.2h-2.2zM521.7,516.7h2.2v2.2h-2.2zM521.7,504.4h2.2v2.2h-2.2zM521.7,492.1h2.2v2.2h-2.2zM521.7,480.0h2.2v2.2h-2.2zM521.7,467.8h2.2v2.2h-2.2zM521.7,455.7h2.2v2.2h-2.2zM521.7,443.5h2.2v2.2h-2.2zM521.7,431.4h2.2v2.2h-2.2zM521.7,419.2h2.2v2.2h-2.2zM521.7,407.0h2.2v2.2h-2.2zM521.7,394.8h2.2v2.2h-2.2zM521.7,382.6h2.2v2.2h-2.2zM521.7,370.4h2.2v2.2h-2.2zM521.7,358.1h2.2v2.2h-2.2zM521.7,345.7h2.2v2.2h-2.2zM521.7,333.3h2.2v2.2h-2.2zM521.7,321.0h2.2v2.2h-2.2zM521.7,308.6h2.2v2.2h-2.2zM521.7,296.4h2.2v2.2h-2.2zM521.7,284.3h2.2v2.2h-2.2zM521.7,272.1h2.2v2.2h-2.2zM521.7,259.9h2.2v2.2h-2.2zM521.7,247.7h2.2v2.2h-2.2zM521.7,235.6h2.2v2.2h-2.2zM521.7,223.5h2.2v2.2h-2.2zM521.7,211.4h2.2v2.2h-2.2zM521.7,199.3h2.2v2.2h-2.2zM533.2,651.6h2.2v2.2h-2.2zM533.2,639.4h2.2v2.2h-2.2zM533.2,627.3h2.2v2.2h-2.2zM533.2,615.1h2.2v2.2h-2.2zM533.2,602.8h2.2v2.2h-2.2zM533.2,590.5h2.2v2.2h-2.2zM533.2,578.2h2.2v2.2h-2.2zM533.2,565.9h2.2v2.2h-2.2zM533.2,553.6h2.2v2.2h-2.2zM533.2,541.3h2.2v2.2h-2.2zM533.2,529.0h2.2v2.2h-2.2zM533.2,516.7h2.2v2.2h-2.2zM533.2,504.4h2.2v2.2h-2.2zM533.2,492.1h2.2v2.2h-2.2zM533.2,479.9h2.2v2.2h-2.2zM533.2,467.8h2.2v2.2h-2.2zM533.2,455.6h2.2v2.2h-2.2zM533.2,443.5h2.2v2.2h-2.2zM533.2,431.3h2.2v2.2h-2.2zM533.2,419.1h2.2v2.2h-2.2zM533.2,407.0h2.2v2.2h-2.2zM533.2,394.8h2.2v2.2h-2.2zM533.2,382.6h2.2v2.2h-2.2zM533.2,370.4h2.2v2.2h-2.2zM533.2,358.0h2.2v2.2h-2.2zM533.2,345.7h2.2v2.2h-2.2zM533.2,333.3h2.2v2.2h-2.2zM533.2,321.0h2.2v2.2h-2.2zM533.2,308.6h2.2v2.2h-2.2zM533.2,296.4h2.2v2.2h-2.2zM533.2,284.2h2.2v2.2h-2.2zM533.2,272.1h2.2v2.2h-2.2zM533.2,259.9h2.2v2.2h-2.2zM533.2,247.7h2.2v2.2h-2.2zM533.2,235.6h2.2v2.2h-2.2zM533.2,223.5h2.2v2.2h-2.2zM533.2,211.3h2.2v2.2h-2.2zM533.2,199.2h2.2v2.2h-2.2zM544.7,651.6h2.2v2.2h-2.2zM544.7,639.4h2.2v2.2h-2.2zM544.7,627.2h2.2v2.2h-2.2zM544.7,615.1h2.2v2.2h-2.2zM544.7,602.7h2.2v2.2h-2.2zM544.7,590.4h2.2v2.2h-2.2zM544.7,578.1h2.2v2.2h-2.2zM544.7,565.8h2.2v2.2h-2.2zM544.7,553.5h2.2v2.2h-2.2zM544.7,541.2h2.2v2.2h-2.2zM544.7,528.9h2.2v2.2h-2.2zM544.7,516.6h2.2v2.2h-2.2zM544.7,504.3h2.2v2.2h-2.2zM544.7,492.0h2.2v2.2h-2.2zM544.7,479.9h2.2v2.2h-2.2zM544.7,467.7h2.2v2.2h-2.2zM544.7,455.6h2.2v2.2h-2.2zM544.7,443.4h2.2v2.2h-2.2zM544.7,431.3h2.2v2.2h-2.2zM544.7,419.1h2.2v2.2h-2.2zM544.7,406.9h2.2v2.2h-2.2zM544.7,394.7h2.2v2.2h-2.2zM544.7,382.6h2.2v2.2h-2.2zM544.7,370.4h2.2v2.2h-2.2zM544.7,358.0h2.2v2.2h-2.2zM544.7,345.7h2.2v2.2h-2.2zM544.7,333.3h2.2v2.2h-2.2zM544.7,321.0h2.2v2.2h-2.2zM544.7,308.6h2.2v2.2h-2.2zM544.7,296.4h2.2v2.2h-2.2zM544.7,284.2h2.2v2.2h-2.2zM544.7,272.0h2.2v2.2h-2.2zM544.7,259.8h2.2v2.2h-2.2zM544.7,247.6h2.2v2.2h-2.2zM544.7,235.5h2.2v2.2h-2.2zM544.7,223.4h2.2v2.2h-2.2zM544.7,211.3h2.2v2.2h-2.2zM544.7,199.2h2.2v2.2h-2.2zM556.1,651.5h2.2v2.2h-2.2zM556.1,639.4h2.2v2.2h-2.2zM556.1,627.2h2.2v2.2h-2.2zM556.1,602.7h2.2v2.2h-2.2zM556.1,590.4h2.2v2.2h-2.2zM556.1,578.1h2.2v2.2h-2.2zM556.1,565.7h2.2v2.2h-2.2zM556.1,541.1h2.2v2.2h-2.2zM556.1,528.8h2.2v2.2h-2.2zM556.1,516.5h2.2v2.2h-2.2zM556.1,504.2h2.2v2.2h-2.2zM556.1,479.8h2.2v2.2h-2.2zM556.1,467.7h2.2v2.2h-2.2zM556.1,455.5h2.2v2.2h-2.2zM556.1,443.4h2.2v2.2h-2.2zM556.1,419.1h2.2v2.2h-2.2zM556.1,406.9h2.2v2.2h-2.2zM556.1,394.7h2.2v2.2h-2.2zM556.1,382.5h2.2v2.2h-2.2zM556.1,358.0h2.2v2.2h-2.2zM556.1,345.6h2.2v2.2h-2.2zM556.1,333.3h2.2v2.2h-2.2zM556.1,320.9h2.2v2.2h-2.2zM556.1,296.4h2.2v2.2h-2.2zM556.1,284.2h2.2v2.2h-2.2zM556.1,272.0h2.2v2.2h-2.2zM556.1,259.8h2.2v2.2h-2.2zM556.1,235.5h2.2v2.2h-2.2zM556.1,223.4h2.2v2.2h-2.2zM556.1,211.3h2.2v2.2h-2.2zM556.1,199.1h2.2v2.2h-2.2zM567.6,651.5h2.2v2.2h-2.2zM567.6,639.3h2.2v2.2h-2.2zM567.6,627.1h2.2v2.2h-2.2zM567.6,615.0h2.2v2.2h-2.2zM567.6,602.6h2.2v2.2h-2.2zM567.6,590.3h2.2v2.2h-2.2zM567.6,578.0h2.2v2.2h-2.2zM567.6,565.7h2.2v2.2h-2.2zM567.6,553.4h2.2v2.2h-2.2zM567.6,541.1h2.2v2.2h-2.2zM567.6,528.8h2.2v2.2h-2.2zM567.6,516.5h2.2v2.2h-2.2zM567.6,504.2h2.2v2.2h-2.2zM567.6,491.9h2.2v2.2h-2.2zM567.6,479.7h2.2v2.2h-2.2zM567.6,467.6h2.2v2.2h-2.2zM567.6,455.5h2.2v2.2h-2.2zM567.6,443.3h2.2v2.2h-2.2zM567.6,431.2h2.2v2.2h-2.2zM567.6,419.0h2.2v2.2h-2.2zM567.6,406.9h2.2v2.2h-2.2zM567.6,394.7h2.2v2.2h-2.2zM567.6,382.5h2.2v2.2h-2.2zM567.6,370.3h2.2v2.2h-2.2zM567.6,358.0h2.2v2.2h-2.2zM567.6,345.6h2.2v2.2h-2.2zM567.6,333.3h2.2v2.2h-2.2zM567.6,320.9h2.2v2.2h-2.2zM567.6,308.6h2.2v2.2h-2.2zM567.6,296.4h2.2v2.2h-2.2zM567.6,284.2h2.2v2.2h-2.2zM567.6,272.0h2.2v2.2h-2.2zM567.6,259.8h2.2v2.2h-2.2zM567.6,247.6h2.2v2.2h-2.2zM567.6,235.4h2.2v2.2h-2.2zM567.6,223.3h2.2v2.2h-2.2zM567.6,211.2h2.2v2.2h-2.2zM567.6,199.1h2.2v2.2h-2.2zM579.1,651.5h2.2v2.2h-2.2zM579.1,639.3h2.2v2.2h-2.2zM579.1,627.1h2.2v2.2h-2.2zM579.1,614.9h2.2v2.2h-2.2zM579.1,602.6h2.2v2.2h-2.2zM579.1,590.3h2.2v2.2h-2.2zM579.1,577.9h2.2v2.2h-2.2zM579.1,565.6h2.2v2.2h-2.2zM579.1,553.3h2.2v2.2h-2.2zM579.1,541.0h2.2v2.2h-2.2zM579.1,528.7h2.2v2.2h-2.2zM579.1,516.4h2.2v2.2h-2.2zM579.1,504.1h2.2v2.2h-2.2zM579.1,491.8h2.2v2.2h-2.2zM579.1,479.7h2.2v2.2h-2.2zM579.1,467.5h2.2v2.2h-2.2zM579.1,455.4h2.2v2.2h-2.2zM579.1,443.3h2.2v2.2h-2.2zM579.1,431.2h2.2v2.2h-2.2zM579.1,419.0h2.2v2.2h-2.2zM579.1,406.8h2.2v2.2h-2.2zM579.1,394.7h2.2v2.2h-2.2zM579.1,382.5h2.2v2.2h-2.2zM579.1,370.3h2.2v2.2h-2.2zM579.1,357.9h2.2v2.2h-2.2zM579.1,345.6h2.2v2.2h-2.2zM579.1,333.2h2.2v2.2h-2.2zM579.1,320.9h2.2v2.2h-2.2zM579.1,308.5h2.2v2.2h-2.2zM579.1,296.3h2.2v2.2h-2.2zM579.1,284.1h2.2v2.2h-2.2zM579.1,271.9h2.2v2.2h-2.2zM579.1,259.7h2.2v2.2h-2.2zM579.1,247.5h2.2v2.2h-2.2zM579.1,235.4h2.2v2.2h-2.2zM579.1,223.3h2.2v2.2h-2.2zM579.1,211.2h2.2v2.2h-2.2zM579.1,199.1h2.2v2.2h-2.2zM590.6,651.4h2.2v2.2h-2.2zM590.6,639.2h2.2v2.2h-2.2zM590.6,627.0h2.2v2.2h-2.2zM590.6,614.9h2.2v2.2h-2.2zM590.6,602.5h2.2v2.2h-2.2zM590.6,590.2h2.2v2.2h-2.2zM590.6,577.9h2.2v2.2h-2.2zM590.6,565.5h2.2v2.2h-2.2zM590.6,553.2h2.2v2.2h-2.2zM590.6,540.9h2.2v2.2h-2.2zM590.6,528.6h2.2v2.2h-2.2zM590.6,516.3h2.2v2.2h-2.2zM590.6,504.0h2.2v2.2h-2.2zM590.6,491.7h2.2v2.2h-2.2zM590.6,479.6h2.2v2.2h-2.2zM590.6,467.5h2.2v2.2h-2.2zM590.6,455.4h2.2v2.2h-2.2zM590.6,443.3h2.2v2.2h-2.2zM590.6,431.1h2.2v2.2h-2.2zM590.6,419.0h2.2v2.2h-2.2zM590.6,406.8h2.2v2.2h-2.2zM590.6,394.6h2.2v2.2h-2.2zM590.6,382.5h2.2v2.2h-2.2zM590.6,370.3h2.2v2.2h-2.2zM590.6,357.9h2.2v2.2h-2.2zM590.6,345.6h2.2v2.2h-2.2zM590.6,333.2h2.2v2.2h-2.2zM590.6,320.9h2.2v2.2h-2.2zM590.6,308.5h2.2v2.2h-2.2zM590.6,296.3h2.2v2.2h-2.2zM590.6,284.1h2.2v2.2h-2.2zM590.6,271.9h2.2v2.2h-2.2zM590.6,259.7h2.2v2.2h-2.2zM590.6,247.5h2.2v2.2h-2.2zM590.6,235.4h2.2v2.2h-2.2zM590.6,223.2h2.2v2.2h-2.2zM590.6,211.1h2.2v2.2h-2.2zM590.6,199.0h2.2v2.2h-2.2zM602.0,651.4h2.2v2.2h-2.2zM602.0,639.2h2.2v2.2h-2.2zM602.0,627.0h2.2v2.2h-2.2zM602.0,614.8h2.2v2.2h-2.2zM602.0,602.5h2.2v2.2h-2.2zM602.0,590.1h2.2v2.2h-2.2zM602.0,577.8h2.2v2.2h-2.2zM602.0,565.5h2.2v2.2h-2.2zM602.0,553.1h2.2v2.2h-2.2zM602.0,540.8h2.2v2.2h-2.2zM602.0,528.5h2.2v2.2h-2.2zM602.0,516.2h2.2v2.2h-2.2zM602.0,503.9h2.2v2.2h-2.2zM602.0,491.6h2.2v2.2h-2.2zM602.0,479.5h2.2v2.2h-2.2zM602.0,467.4h2.2v2.2h-2.2zM602.0,455.3h2.2v2.2h-2.2zM602.0,443.2h2.2v2.2h-2.2zM602.0,431.1h2.2v2.2h-2.2zM602.0,418.9h2.2v2.2h-2.2zM602.0,406.8h2.2v2.2h-2.2zM602.0,394.6h2.2v2.2h-2.2zM602.0,382.4h2.2v2.2h-2.2zM602.0,370.3h2.2v2.2h-2.2zM602.0,357.9h2.2v2.2h-2.2zM602.0,345.6h2.2v2.2h-2.2zM602.0,333.2h2.2v2.2h-2.2zM602.0,320.9h2.2v2.2h-2.2zM602.0,308.5h2.2v2.2h-2.2zM602.0,296.3h2.2v2.2h-2.2zM602.0,284.1h2.2v2.2h-2.2zM602.0,271.9h2.2v2.2h-2.2zM602.0,259.7h2.2v2.2h-2.2zM602.0,247.4h2.2v2.2h-2.2zM602.0,235.3h2.2v2.2h-2.2zM602.0,223.2h2.2v2.2h-2.2zM602.0,211.1h2.2v2.2h-2.2zM602.0,199.0h2.2v2.2h-2.2zM613.5,651.3h2.2v2.2h-2.2zM613.5,639.1h2.2v2.2h-2.2zM613.5,627.0h2.2v2.2h-2.2zM613.5,602.4h2.2v2.2h-2.2zM613.5,590.1h2.2v2.2h-2.2zM613.5,577.7h2.2v2.2h-2.2zM613.5,565.4h2.2v2.2h-2.2zM613.5,540.8h2.2v2.2h-2.2zM613.5,528.5h2.2v2.2h-2.2zM613.5,516.2h2.2v2.2h-2.2zM613.5,503.9h2.2v2.2h-2.2zM613.5,479.5h2.2v2.2h-2.2zM613.5,467.4h2.2v2.2h-2.2zM613.5,455.3h2.2v2.2h-2.2zM613.5,443.2h2.2v2.2h-2.2zM613.5,418.9h2.2v2.2h-2.2zM613.5,406.7h2.2v2.2h-2.2zM613.5,394.6h2.2v2.2h-2.2zM613.5,382.4h2.2v2.2h-2.2zM613.5,357.9h2.2v2.2h-2.2zM613.5,345.5h2.2v2.2h-2.2zM613.5,333.2h2.2v2.2h-2.2zM613.5,320.8h2.2v2.2h-2.2zM613.5,296.3h2.2v2.2h-2.2zM613.5,284.1h2.2v2.2h-2.2zM613.5,271.8h2.2v2.2h-2.2zM613.5,259.6h2.2v2.2h-2.2zM613.5,235.3h2.2v2.2h-2.2zM613.5,223.2h2.2v2.2h-2.2zM613.5,211.1h2.2v2.2h-2.2zM613.5,198.9h2.2v2.2h-2.2zM625.0,651.3h2.2v2.2h-2.2zM625.0,639.1h2.2v2.2h-2.2zM625.0,626.9h2.2v2.2h-2.2zM625.0,614.7h2.2v2.2h-2.2zM625.0,602.4h2.2v2.2h-2.2zM625.0,590.0h2.2v2.2h-2.2zM625.0,577.7h2.2v2.2h-2.2zM625.0,565.3h2.2v2.2h-2.2zM625.0,553.0h2.2v2.2h-2.2zM625.0,540.7h2.2v2.2h-2.2zM625.0,528.4h2.2v2.2h-2.2zM625.0,516.1h2.2v2.2h-2.2zM625.0,503.8h2.2v2.2h-2.2zM625.0,491.5h2.2v2.2h-2.2zM625.0,479.4h2.2v2.2h-2.2zM625.0,467.3h2.2v2.2h-2.2zM625.0,455.2h2.2v2.2h-2.2zM625.0,443.1h2.2v2.2h-2.2zM625.0,431.0h2.2v2.2h-2.2zM625.0,418.9h2.2v2.2h-2.2zM625.0,406.7h2.2v2.2h-2.2zM625.0,394.5h2.2v2.2h-2.2zM625.0,382.4h2.2v2.2h-2.2zM625.0,370.2h2.2v2.2h-2.2zM625.0,357.9h2.2v2.2h-2.2zM625.0,345.5h2.2v2.2h-2.2zM625.0,333.2h2.2v2.2h-2.2zM625.0,320.8h2.2v2.2h-2.2zM625.0,308.5h2.2v2.2h-2.2zM625.0,296.2h2.2v2.2h-2.2zM625.0,284.0h2.2v2.2h-2.2zM625.0,271.8h2.2v2.2h-2.2zM625.0,259.6h2.2v2.2h-2.2zM625.0,247.4h2.2v2.2h-2.2zM625.0,235.2h2.2v2.2h-2.2zM625.0,223.1h2.2v2.2h-2.2zM625.0,211.0h2.2v2.2h-2.2zM625.0,198.9h2.2v2.2h-2.2zM636.5,651.3h2.2v2.2h-2.2zM636.5,639.1h2.2v2.2h-2.2zM636.5,626.9h2.2v2.2h-2.2zM636.5,614.7h2.2v2.2h-2.2zM636.5,602.3h2.2v2.2h-2.2zM636.5,590.0h2.2v2.2h-2.2zM636.5,577.6h2.2v2.2h-2.2zM636.5,565.3h2.2v2.2h-2.2zM636.5,552.9h2.2v2.2h-2.2zM636.5,540.6h2.2v2.2h-2.2zM636.5,528.3h2.2v2.2h-2.2zM636.5,516.0h2.2v2.2h-2.2zM636.5,503.7h2.2v2.2h-2.2zM636.5,491.4h2.2v2.2h-2.2zM636.5,479.3h2.2v2.2h-2.2zM636.5,467.3h2.2v2.2h-2.2zM636.5,455.2h2.2v2.2h-2.2zM636.5,443.1h2.2v2.2h-2.2zM636.5,431.0h2.2v2.2h-2.2zM636.5,418.8h2.2v2.2h-2.2zM636.5,406.7h2.2v2.2h-2.2zM636.5,394.5h2.2v2.2h-2.2zM636.5,382.3h2.2v2.2h-2.2zM636.5,370.2h2.2v2.2h-2.2zM636.5,357.8h2.2v2.2h-2.2zM636.5,345.5h2.2v2.2h-2.2zM636.5,333.1h2.2v2.2h-2.2zM636.5,320.8h2.2v2.2h-2.2zM636.5,308.5h2.2v2.2h-2.2zM636.5,296.2h2.2v2.2h-2.2zM636.5,284.0h2.2v2.2h-2.2zM636.5,271.8h2.2v2.2h-2.2zM636.5,259.5h2.2v2.2h-2.2zM636.5,247.3h2.2v2.2h-2.2zM636.5,235.2h2.2v2.2h-2.2zM636.5,223.1h2.2v2.2h-2.2zM636.5,211.0h2.2v2.2h-2.2zM636.5,198.8h2.2v2.2h-2.2zM647.9,651.2h2.2v2.2h-2.2zM647.9,639.0h2.2v2.2h-2.2zM647.9,626.8h2.2v2.2h-2.2zM647.9,614.6h2.2v2.2h-2.2zM647.9,602.3h2.2v2.2h-2.2zM647.9,589.9h2.2v2.2h-2.2zM647.9,577.6h2.2v2.2h-2.2zM647.9,565.2h2.2v2.2h-2.2zM647.9,552.9h2.2v2.2h-2.2zM647.9,540.6h2.2v2.2h-2.2zM647.9,528.3h2.2v2.2h-2.2zM647.9,516.0h2.2v2.2h-2.2zM647.9,503.7h2.2v2.2h-2.2zM647.9,491.4h2.2v2.2h-2.2zM647.9,479.3h2.2v2.2h-2.2zM647.9,467.2h2.2v2.2h-2.2zM647.9,455.1h2.2v2.2h-2.2zM647.9,443.0h2.2v2.2h-2.2zM647.9,431.0h2.2v2.2h-2.2zM647.9,418.8h2.2v2.2h-2.2zM647.9,406.6h2.2v2.2h-2.2zM647.9,394.5h2.2v2.2h-2.2zM647.9,382.3h2.2v2.2h-2.2zM647.9,370.2h2.2v2.2h-2.2zM647.9,357.8h2.2v2.2h-2.2zM647.9,345.5h2.2v2.2h-2.2zM647.9,333.1h2.2v2.2h-2.2zM647.9,320.8h2.2v2.2h-2.2zM647.9,308.4h2.2v2.2h-2.2zM647.9,296.2h2.2v2.2h-2.2zM647.9,284.0h2.2v2.2h-2.2zM647.9,271.7h2.2v2.2h-2.2zM647.9,259.5h2.2v2.2h-2.2zM647.9,247.3h2.2v2.2h-2.2zM647.9,235.2h2.2v2.2h-2.2zM647.9,223.0h2.2v2.2h-2.2zM647.9,210.9h2.2v2.2h-2.2zM647.9,198.8h2.2v2.2h-2.2zM659.4,651.2h2.2v2.2h-2.2zM659.4,639.0h2.2v2.2h-2.2zM659.4,626.8h2.2v2.2h-2.2zM659.4,614.6h2.2v2.2h-2.2zM659.4,602.2h2.2v2.2h-2.2zM659.4,589.8h2.2v2.2h-2.2zM659.4,577.5h2.2v2.2h-2.2zM659.4,565.1h2.2v2.2h-2.2zM659.4,552.8h2.2v2.2h-2.2zM659.4,540.5h2.2v2.2h-2.2zM659.4,528.2h2.2v2.2h-2.2zM659.4,515.9h2.2v2.2h-2.2zM659.4,503.6h2.2v2.2h-2.2zM659.4,491.3h2.2v2.2h-2.2zM659.4,479.2h2.2v2.2h-2.2zM659.4,467.1h2.2v2.2h-2.2zM659.4,455.1h2.2v2.2h-2.2zM659.4,443.0h2.2v2.2h-2.2zM659.4,430.9h2.2v2.2h-2.2zM659.4,418.8h2.2v2.2h-2.2zM659.4,406.6h2.2v2.2h-2.2zM659.4,394.5h2.2v2.2h-2.2zM659.4,382.3h2.2v2.2h-2.2zM659.4,370.1h2.2v2.2h-2.2zM659.4,357.8h2.2v2.2h-2.2zM659.4,345.4h2.2v2.2h-2.2zM659.4,333.1h2.2v2.2h-2.2zM659.4,320.8h2.2v2.2h-2.2zM659.4,308.4h2.2v2.2h-2.2zM659.4,296.2h2.2v2.2h-2.2zM659.4,283.9h2.2v2.2h-2.2zM659.4,271.7h2.2v2.2h-2.2zM659.4,259.5h2.2v2.2h-2.2zM659.4,247.2h2.2v2.2h-2.2zM659.4,235.1h2.2v2.2h-2.2zM659.4,223.0h2.2v2.2h-2.2zM659.4,210.9h2.2v2.2h-2.2zM659.4,198.8h2.2v2.2h-2.2z" fill="#787878"/>
<path d="M270.38,188.19 V677.80 M327.75,187.98 V677.80 M385.12,187.76 V677.80 M442.50,187.55 V677.80 M499.88,187.34 V677.80 M557.25,187.13 V677.80 M614.62,186.92 V677.80 M672.00,186.70 V677.80 M211,617.61 L673.5,615.60 M211,556.71 L673.5,553.80 M211,495.21 L673.5,492.30 M211,433.41 L673.5,432.00 M211,372.20 L673.5,371.20 M211,310.20 L673.5,309.50 M211,249.91 L673.5,248.30 M211,189.41 L673.5,187.70" stroke="#262626" stroke-width="1.9" fill="none"/>
<path d="M235.5,249.9 V703" stroke="#2a2a2a" stroke-width="1.6" fill="none"/>
<path d="M213,157 V708" stroke="#1a1a1a" stroke-width="1.8" fill="none"/>
<path d="M213,147.5 L209.8,158.5 L216.2,158.5 Z" fill="#1a1a1a"/>
<path d="M184,678.0 L703,676.9" stroke="#1a1a1a" stroke-width="1.8" fill="none"/>
<path d="M713,676.9 L702,673.7 L702,680.1 Z" fill="#1a1a1a"/>
<rect x="317.5" y="215.5" width="65.0" height="30.5" fill="#fff"/>
<rect x="353.8" y="245.0" width="63.8" height="25.0" fill="#fff"/>
<rect x="385.0" y="272.5" width="63.0" height="31.0" fill="#fff"/>
<rect x="426.0" y="311.0" width="63.0" height="25.0" fill="#fff"/>
<rect x="453.7" y="352.0" width="62.3" height="24.0" fill="#fff"/>
<rect x="491.0" y="395.0" width="65.0" height="28.0" fill="#fff"/>
<rect x="519.0" y="444.0" width="61.0" height="28.0" fill="#fff"/>
<rect x="560.8" y="507.0" width="63.2" height="28.0" fill="#fff"/>
<rect x="607.0" y="574.5" width="61.0" height="29.3" fill="#fff"/>
<rect x="653.0" y="644.0" width="92.0" height="25.5" fill="#fff"/>
<rect x="361.0" y="497.0" width="132.0" height="24.7" fill="#fff"/>
<path d="M673,671 V677.5" stroke="#2a2a2a" stroke-width="1.8"/>
<defs><linearGradient id="cg" gradientUnits="userSpaceOnUse" x1="220" y1="690" x2="430" y2="290"><stop offset="0" stop-color="#1b2244"/><stop offset="0.45" stop-color="#243868"/><stop offset="1" stop-color="#2c4b86"/></linearGradient></defs>
<path d="M217.3,695.0 L217.4,689.0 L217.6,683.0 L217.7,677.0 L218.0,671.0 L218.2,665.0 L218.4,659.0 L218.7,653.0 L218.9,647.0 L219.1,641.0 L219.3,635.0 L219.6,629.0 L219.8,623.0 L220.0,617.0 L220.2,611.0 L220.4,605.0 L220.6,599.0 L220.7,593.0 L220.9,587.0 L221.1,581.0 L221.3,575.0 L221.5,569.0 L221.7,563.0 L221.9,557.0 L222.1,551.0 L222.4,545.0 L222.6,539.0 L222.9,533.0 L223.1,527.0 L223.4,521.0 L223.6,515.0 L223.9,509.0 L224.1,503.0 L224.4,497.0 L224.7,491.0 L225.0,485.0 L225.2,479.0 L225.5,473.0 L225.8,467.0 L226.1,461.0 L226.3,455.0 L226.6,449.0 L226.9,443.0 L227.1,437.0 L227.4,431.0 L227.7,425.0 L227.9,419.0 L228.2,413.0 L228.5,407.0 L228.8,401.0 L229.0,395.0 L229.3,389.0 L229.5,383.0 L229.8,377.0 L230.0,371.0 L230.2,365.0 L230.4,359.0 L230.6,353.0 L230.8,347.0 L231.0,341.0 L231.2,335.0 L231.5,329.0 L231.9,323.0 L232.1,318.0" stroke="url(#cg)" stroke-width="4.6" fill="none" stroke-linecap="round" stroke-linejoin="round"/>
<path d="M231.9,322.0 L232.0,320.1 L232.2,318.3 L232.3,316.5 L232.4,314.8 L232.6,313.1 L232.8,311.4 L233.0,309.7 L233.2,308.0 L233.4,306.4 L233.7,304.8 L233.9,303.2 L234.2,301.6 L234.5,300.1 L234.9,298.5 L235.4,297.0 L236.0,295.5 L236.8,293.9 L237.7,292.3 L238.6,290.7 L239.7,289.1 L240.8,287.6 L242.0,286.0 L243.2,284.5 L244.5,283.0 L245.9,281.4 L247.3,279.8 L248.8,278.2 L250.3,276.6 L252.0,275.1 L253.7,273.5 L255.5,272.0 L257.4,270.5 L260.1,268.5 L263.0,266.6 L266.1,264.7 L269.3,262.8 L272.6,260.9 L275.9,259.1 L279.2,257.2 L282.4,255.3 L285.6,253.4 L288.9,251.3 L292.3,249.3 L295.7,247.2 L299.0,245.3 L302.0,243.4 L304.9,241.7 L307.4,240.2 L308.7,239.3 L309.9,238.6 L311.1,237.9 L312.1,237.3 L313.2,236.7 L314.2,236.0 L315.2,235.4 L316.3,234.8" stroke="url(#cg)" stroke-width="4.5" fill="none" stroke-linecap="round" stroke-linejoin="round"/>
<path d="M230.9,345.0 L231.1,343.1 L231.4,341.2 L231.7,339.3 L232.0,337.4 L232.4,335.7 L232.8,334.0 L233.3,332.4 L233.8,331.0 L234.2,330.1 L234.7,329.3 L235.2,328.5 L235.7,327.8 L236.3,327.1 L236.8,326.4 L237.4,325.7 L238.0,325.0 L238.7,324.2 L239.3,323.4 L240.0,322.6 L240.7,321.8 L241.4,321.0 L242.2,320.2 L243.1,319.4 L244.0,318.5 L245.5,317.1 L247.2,315.6 L249.1,314.0 L251.0,312.4 L253.1,310.7 L255.2,309.0 L257.4,307.4 L259.6,305.8 L262.4,303.9 L265.4,301.9 L268.5,300.0 L271.7,298.0 L274.9,296.1 L278.2,294.2 L281.4,292.3 L284.6,290.4 L287.7,288.6 L290.8,286.8 L293.9,285.1 L297.1,283.4 L300.2,281.7 L303.3,280.0 L306.5,278.3 L309.6,276.7 L312.7,275.1 L315.9,273.5 L319.1,271.9 L322.3,270.3 L325.5,268.8 L328.6,267.3 L331.7,265.9 L334.6,264.6 L337.0,263.5 L339.3,262.5 L341.5,261.5 L343.7,260.6 L345.9,259.7 L348.1,258.8 L350.3,257.9 L352.5,256.9" stroke="url(#cg)" stroke-width="4.5" fill="none" stroke-linecap="round" stroke-linejoin="round"/>
<path d="M229.7,378.0 L230.1,376.3 L230.5,374.7 L230.9,373.1 L231.4,371.5 L231.9,370.0 L232.4,368.6 L233.0,367.3 L233.5,366.0 L233.9,365.1 L234.3,364.3 L234.7,363.6 L235.1,362.9 L235.5,362.2 L236.0,361.5 L236.4,360.8 L236.9,360.0 L237.5,359.1 L238.0,358.2 L238.6,357.2 L239.2,356.3 L239.8,355.4 L240.5,354.4 L241.2,353.5 L242.0,352.5 L243.0,351.3 L244.0,350.1 L245.1,348.9 L246.3,347.8 L247.6,346.6 L248.9,345.4 L250.3,344.2 L251.9,343.0 L254.4,341.4 L257.2,339.7 L260.3,338.1 L263.6,336.5 L266.9,334.9 L270.3,333.3 L273.7,331.8 L276.9,330.2 L280.0,328.7 L283.1,327.2 L286.2,325.8 L289.4,324.3 L292.5,322.9 L295.6,321.5 L298.8,320.1 L301.9,318.7 L305.0,317.3 L308.1,316.0 L311.2,314.7 L314.4,313.4 L317.5,312.1 L320.6,310.8 L323.8,309.6 L326.9,308.4 L330.0,307.2 L333.1,306.0 L336.3,304.8 L339.4,303.7 L342.5,302.6 L345.6,301.5 L348.8,300.4 L351.9,299.3 L355.1,298.3 L358.5,297.2 L361.9,296.1 L365.4,295.0 L368.7,294.0 L371.7,293.1 L374.5,292.2 L376.9,291.5 L378.0,291.2 L378.9,290.9 L379.8,290.7 L380.6,290.5 L381.4,290.2 L382.1,290.0 L382.9,289.8 L383.8,289.6" stroke="url(#cg)" stroke-width="4.5" fill="none" stroke-linecap="round" stroke-linejoin="round"/>
<path d="M228.5,407.0 L228.8,405.6 L229.1,404.2 L229.4,402.9 L229.8,401.6 L230.2,400.4 L230.6,399.3 L231.1,398.1 L231.5,397.0 L231.9,396.0 L232.3,395.1 L232.6,394.2 L233.1,393.3 L233.5,392.4 L233.9,391.6 L234.4,390.8 L235.0,390.0 L235.6,389.2 L236.3,388.5 L237.0,387.9 L237.7,387.2 L238.5,386.6 L239.3,385.9 L240.1,385.2 L241.0,384.5 L242.3,383.4 L243.7,382.2 L245.2,380.9 L246.7,379.6 L248.4,378.4 L250.1,377.1 L251.9,375.9 L253.8,374.7 L256.5,373.4 L259.4,372.1 L262.5,370.8 L265.7,369.6 L269.0,368.5 L272.3,367.3 L275.6,366.2 L278.8,365.0 L281.9,363.9 L285.0,362.7 L288.2,361.6 L291.3,360.5 L294.4,359.3 L297.5,358.2 L300.7,357.1 L303.8,356.1 L306.9,355.0 L310.0,353.9 L313.2,352.9 L316.3,351.8 L319.4,350.8 L322.5,349.8 L325.7,348.8 L328.8,347.8 L331.9,346.8 L335.0,345.8 L338.2,344.9 L341.3,343.9 L344.4,343.0 L347.5,342.1 L350.7,341.2 L353.8,340.3 L356.9,339.4 L360.0,338.5 L363.2,337.6 L366.3,336.8 L369.4,335.9 L372.5,335.1 L375.7,334.3 L378.8,333.4 L381.9,332.6 L385.1,331.8 L388.3,331.0 L391.5,330.3 L394.6,329.5 L397.7,328.8 L400.8,328.0 L403.8,327.3 L406.4,326.7 L409.0,326.2 L411.5,325.6 L414.0,325.1 L416.5,324.5 L419.0,324.0 L421.5,323.5 L424.0,322.9" stroke="url(#cg)" stroke-width="4.5" fill="none" stroke-linecap="round" stroke-linejoin="round"/>
<path d="M226.9,442.0 L227.2,440.6 L227.6,439.2 L228.0,437.9 L228.4,436.6 L228.9,435.4 L229.4,434.3 L229.9,433.1 L230.5,432.0 L231.1,431.0 L231.7,430.0 L232.4,429.0 L233.1,428.1 L233.8,427.1 L234.5,426.2 L235.3,425.4 L236.0,424.5 L236.7,423.7 L237.4,422.9 L238.0,422.1 L238.7,421.3 L239.5,420.6 L240.2,419.9 L241.1,419.2 L242.0,418.5 L243.3,417.7 L244.6,416.9 L246.1,416.2 L247.6,415.5 L249.2,414.8 L250.9,414.1 L252.7,413.4 L254.5,412.8 L257.2,411.8 L260.1,410.8 L263.2,409.9 L266.4,408.9 L269.7,408.0 L273.0,407.0 L276.3,406.1 L279.5,405.2 L282.6,404.3 L285.7,403.4 L288.9,402.5 L292.0,401.6 L295.1,400.7 L298.2,399.8 L301.4,398.9 L304.5,398.1 L307.6,397.2 L310.7,396.3 L313.9,395.5 L317.0,394.6 L320.1,393.8 L323.2,393.0 L326.4,392.2 L329.5,391.3 L332.6,390.5 L335.7,389.7 L338.9,388.9 L342.0,388.2 L345.1,387.4 L348.2,386.6 L351.4,385.8 L354.5,385.1 L357.6,384.3 L360.7,383.6 L363.9,382.8 L367.0,382.1 L370.1,381.4 L373.2,380.6 L376.4,379.9 L379.5,379.2 L382.6,378.5 L385.7,377.8 L388.9,377.1 L392.0,376.4 L395.1,375.8 L398.2,375.1 L401.4,374.4 L404.5,373.8 L407.6,373.1 L410.8,372.5 L413.9,371.9 L417.1,371.2 L420.2,370.6 L423.3,370.0 L426.4,369.4 L429.5,368.8 L432.4,368.2 L435.2,367.7 L438.0,367.2 L440.8,366.7 L443.6,366.2 L446.4,365.7 L449.2,365.2 L452.0,364.7" stroke="url(#cg)" stroke-width="4.5" fill="none" stroke-linecap="round" stroke-linejoin="round"/>
<path d="M225.4,476.0 L225.7,474.9 L226.0,474.0 L226.4,473.1 L226.8,472.3 L227.2,471.5 L227.6,470.7 L228.0,469.9 L228.5,469.0 L229.0,467.9 L229.6,466.7 L230.1,465.4 L230.7,464.2 L231.3,463.0 L232.0,461.8 L232.7,460.6 L233.5,459.5 L234.4,458.4 L235.3,457.4 L236.3,456.3 L237.3,455.3 L238.4,454.4 L239.6,453.5 L240.8,452.7 L242.0,452.0 L243.4,451.3 L244.8,450.8 L246.2,450.4 L247.8,450.0 L249.3,449.7 L251.0,449.4 L252.7,449.0 L254.5,448.6 L257.2,448.0 L260.1,447.4 L263.2,446.8 L266.5,446.2 L269.7,445.6 L273.0,445.0 L276.3,444.5 L279.5,443.9 L282.6,443.3 L285.7,442.7 L288.9,442.1 L292.0,441.5 L295.1,441.0 L298.2,440.4 L301.4,439.8 L304.5,439.2 L307.6,438.7 L310.7,438.1 L313.9,437.6 L317.0,437.0 L320.1,436.4 L323.2,435.9 L326.4,435.3 L329.5,434.8 L332.6,434.2 L335.7,433.7 L338.9,433.1 L342.0,432.6 L345.1,432.1 L348.2,431.5 L351.4,431.0 L354.5,430.5 L357.6,429.9 L360.7,429.4 L363.9,428.9 L367.0,428.4 L370.1,427.8 L373.2,427.3 L376.4,426.8 L379.5,426.3 L382.6,425.8 L385.7,425.3 L388.9,424.8 L392.0,424.3 L395.1,423.8 L398.2,423.3 L401.4,422.8 L404.5,422.3 L407.6,421.8 L410.7,421.3 L413.9,420.8 L417.0,420.3 L420.1,419.9 L423.2,419.4 L426.4,418.9 L429.5,418.4 L432.6,418.0 L435.7,417.5 L438.9,417.0 L442.0,416.5 L445.1,416.1 L448.2,415.6 L451.4,415.2 L454.5,414.7 L457.7,414.2 L461.0,413.8 L464.3,413.3 L467.7,412.8 L470.9,412.4 L474.0,411.9 L476.9,411.5 L479.5,411.1 L481.0,410.9 L482.4,410.7 L483.8,410.6 L485.0,410.4 L486.3,410.2 L487.5,410.0 L488.7,409.9 L490.0,409.7" stroke="url(#cg)" stroke-width="4.5" fill="none" stroke-linecap="round" stroke-linejoin="round"/>
<path d="M223.4,521.0 L223.6,519.8 L223.8,518.7 L224.1,517.7 L224.4,516.7 L224.7,515.7 L225.1,514.8 L225.5,513.9 L226.0,513.0 L226.6,512.0 L227.2,511.1 L227.9,510.2 L228.6,509.3 L229.4,508.4 L230.2,507.6 L231.1,506.8 L232.0,506.0 L233.1,505.2 L234.2,504.5 L235.5,503.8 L236.7,503.2 L238.0,502.6 L239.4,502.1 L240.7,501.5 L242.0,501.0 L243.3,500.5 L244.6,500.0 L245.9,499.6 L247.2,499.2 L248.5,498.8 L249.9,498.5 L251.4,498.1 L253.0,497.7 L255.6,497.1 L258.5,496.5 L261.6,496.0 L264.9,495.4 L268.2,494.8 L271.5,494.3 L274.8,493.7 L278.0,493.2 L281.1,492.6 L284.2,492.1 L287.4,491.5 L290.5,491.0 L293.6,490.4 L296.7,489.9 L299.9,489.3 L303.0,488.8 L306.1,488.2 L309.2,487.7 L312.4,487.2 L315.5,486.7 L318.6,486.1 L321.7,485.6 L324.9,485.1 L328.0,484.6 L331.1,484.1 L334.2,483.5 L337.4,483.0 L340.5,482.5 L343.6,482.0 L346.7,481.5 L349.9,481.0 L353.0,480.5 L356.1,480.0 L359.2,479.5 L362.4,479.0 L365.5,478.5 L368.6,478.1 L371.7,477.6 L374.9,477.1 L378.0,476.6 L381.1,476.1 L384.2,475.7 L387.4,475.2 L390.5,474.7 L393.6,474.3 L396.7,473.8 L399.9,473.3 L403.0,472.9 L406.1,472.4 L409.2,472.0 L412.4,471.5 L415.5,471.1 L418.6,470.6 L421.7,470.2 L424.9,469.7 L428.0,469.3 L431.1,468.8 L434.2,468.4 L437.4,468.0 L440.5,467.6 L443.6,467.1 L446.7,466.7 L449.9,466.3 L453.0,465.9 L456.1,465.4 L459.2,465.0 L462.4,464.6 L465.5,464.2 L468.6,463.8 L471.7,463.4 L474.9,463.0 L478.0,462.6 L481.2,462.2 L484.4,461.8 L487.7,461.4 L490.9,461.0 L494.1,460.6 L497.2,460.2 L500.2,459.8 L503.0,459.5 L505.1,459.2 L507.0,459.0 L508.9,458.8 L510.7,458.6 L512.5,458.3 L514.3,458.1 L516.2,457.9 L518.0,457.7" stroke="url(#cg)" stroke-width="4.5" fill="none" stroke-linecap="round" stroke-linejoin="round"/>
<path d="M221.4,572.0 L221.6,570.9 L221.9,569.8 L222.2,568.8 L222.5,567.9 L222.8,567.0 L223.2,566.1 L223.6,565.3 L224.0,564.5 L224.4,563.8 L224.8,563.1 L225.3,562.5 L225.7,561.8 L226.2,561.2 L226.8,560.7 L227.4,560.1 L228.0,559.5 L228.9,558.8 L229.9,558.1 L230.9,557.5 L232.0,556.8 L233.2,556.2 L234.4,555.6 L235.6,555.0 L236.9,554.4 L238.5,553.6 L240.2,552.8 L242.0,552.0 L243.9,551.2 L245.8,550.5 L247.7,549.8 L249.8,549.2 L251.9,548.6 L254.7,548.0 L257.7,547.6 L260.8,547.3 L264.0,547.1 L267.2,546.9 L270.5,546.7 L273.7,546.5 L276.9,546.2 L280.0,546.0 L283.1,545.7 L286.3,545.4 L289.4,545.1 L292.5,544.8 L295.6,544.5 L298.8,544.2 L301.9,543.9 L305.0,543.6 L308.1,543.3 L311.3,543.1 L314.4,542.8 L317.5,542.5 L320.6,542.2 L323.8,541.9 L326.9,541.6 L330.0,541.3 L333.1,541.0 L336.3,540.8 L339.4,540.5 L342.5,540.2 L345.6,539.9 L348.8,539.6 L351.9,539.3 L355.0,539.1 L358.1,538.8 L361.3,538.5 L364.4,538.2 L367.5,537.9 L370.6,537.6 L373.8,537.4 L376.9,537.1 L380.0,536.8 L383.1,536.5 L386.3,536.2 L389.4,536.0 L392.5,535.7 L395.6,535.4 L398.8,535.1 L401.9,534.8 L405.0,534.6 L408.1,534.3 L411.3,534.0 L414.4,533.7 L417.5,533.5 L420.6,533.2 L423.8,532.9 L426.9,532.6 L430.0,532.4 L433.1,532.1 L436.3,531.8 L439.4,531.5 L442.5,531.3 L445.6,531.0 L448.8,530.7 L451.9,530.5 L455.0,530.2 L458.1,529.9 L461.3,529.6 L464.4,529.4 L467.5,529.1 L470.6,528.8 L473.8,528.6 L476.9,528.3 L480.0,528.0 L483.1,527.8 L486.3,527.5 L489.4,527.2 L492.5,527.0 L495.6,526.7 L498.8,526.4 L501.9,526.2 L505.0,525.9 L508.1,525.6 L511.3,525.4 L514.4,525.1 L517.5,524.8 L520.6,524.6 L523.8,524.3 L526.9,524.1 L530.1,523.8 L533.5,523.5 L536.9,523.2 L540.3,522.9 L543.6,522.7 L546.6,522.4 L549.5,522.2 L551.9,522.0 L553.1,521.9 L554.2,521.8 L555.1,521.7 L556.1,521.6 L557.0,521.6 L557.9,521.5 L558.8,521.4 L559.7,521.3" stroke="url(#cg)" stroke-width="4.5" fill="none" stroke-linecap="round" stroke-linejoin="round"/>
<path d="M219.5,630.0 L219.8,628.8 L220.1,627.7 L220.4,626.7 L220.8,625.7 L221.2,624.7 L221.6,623.8 L222.1,622.9 L222.5,622.0 L222.9,621.1 L223.4,620.3 L223.8,619.4 L224.3,618.6 L224.8,617.8 L225.3,617.0 L225.9,616.2 L226.5,615.5 L227.2,614.8 L227.9,614.1 L228.7,613.4 L229.5,612.8 L230.3,612.1 L231.2,611.6 L232.1,611.0 L233.0,610.5 L234.0,610.0 L235.1,609.5 L236.2,609.1 L237.3,608.7 L238.5,608.4 L239.7,608.0 L241.1,607.7 L242.5,607.4 L245.0,607.0 L247.9,606.7 L251.0,606.5 L254.2,606.3 L257.6,606.1 L261.0,606.0 L264.3,605.8 L267.5,605.6 L270.6,605.4 L273.7,605.2 L276.9,604.9 L280.0,604.7 L283.1,604.5 L286.2,604.3 L289.4,604.1 L292.5,603.8 L295.6,603.6 L298.7,603.4 L301.9,603.2 L305.0,603.0 L308.1,602.8 L311.2,602.6 L314.4,602.3 L317.5,602.1 L320.6,601.9 L323.7,601.7 L326.9,601.5 L330.0,601.3 L333.1,601.1 L336.2,600.9 L339.4,600.7 L342.5,600.5 L345.6,600.3 L348.7,600.1 L351.9,599.9 L355.0,599.7 L358.1,599.5 L361.2,599.3 L364.4,599.1 L367.5,598.9 L370.6,598.7 L373.7,598.6 L376.9,598.4 L380.0,598.2 L383.1,598.0 L386.2,597.8 L389.4,597.6 L392.5,597.4 L395.6,597.3 L398.7,597.1 L401.9,596.9 L405.0,596.7 L408.1,596.5 L411.2,596.4 L414.4,596.2 L417.5,596.0 L420.6,595.8 L423.7,595.7 L426.9,595.5 L430.0,595.3 L433.1,595.2 L436.2,595.0 L439.4,594.8 L442.5,594.7 L445.6,594.5 L448.7,594.3 L451.9,594.2 L455.0,594.0 L458.1,593.8 L461.2,593.7 L464.4,593.5 L467.5,593.4 L470.6,593.2 L473.7,593.1 L476.9,592.9 L480.0,592.7 L483.1,592.6 L486.2,592.4 L489.4,592.3 L492.5,592.1 L495.6,592.0 L498.7,591.8 L501.9,591.7 L505.0,591.6 L508.1,591.4 L511.2,591.3 L514.4,591.1 L517.5,591.0 L520.6,590.8 L523.7,590.7 L526.9,590.6 L530.0,590.4 L533.1,590.3 L536.2,590.2 L539.4,590.0 L542.5,589.9 L545.6,589.8 L548.7,589.6 L551.9,589.5 L555.0,589.4 L558.1,589.3 L561.2,589.1 L564.4,589.0 L567.5,588.9 L570.7,588.8 L573.9,588.6 L577.2,588.5 L580.5,588.4 L583.7,588.3 L586.8,588.1 L589.8,588.0 L592.5,587.9 L594.3,587.9 L596.0,587.8 L597.7,587.7 L599.3,587.7 L600.8,587.6 L602.3,587.6 L603.9,587.5 L605.5,587.5" stroke="url(#cg)" stroke-width="4.5" fill="none" stroke-linecap="round" stroke-linejoin="round"/>
<path d="M217.9,674.0 L218.0,673.2 L218.2,672.5 L218.3,671.8 L218.5,671.2 L218.7,670.6 L218.9,670.1 L219.2,669.5 L219.5,669.0 L219.8,668.5 L220.1,668.1 L220.4,667.6 L220.8,667.2 L221.2,666.8 L221.6,666.5 L222.0,666.1 L222.5,665.8 L223.1,665.5 L223.7,665.2 L224.3,665.0 L225.0,664.7 L225.7,664.5 L226.4,664.4 L227.2,664.2 L228.0,664.0 L229.2,663.7 L230.6,663.5 L232.0,663.3 L233.5,663.1 L235.0,662.9 L236.7,662.8 L238.3,662.6 L240.1,662.5 L242.8,662.3 L245.7,662.2 L248.8,662.1 L252.0,662.0 L255.3,661.9 L258.6,661.8 L261.9,661.7 L265.1,661.7 L268.2,661.6 L271.3,661.5 L274.5,661.4 L277.6,661.3 L280.7,661.2 L283.8,661.1 L287.0,661.0 L290.1,660.9 L293.2,660.8 L296.3,660.7 L299.5,660.6 L302.6,660.5 L305.7,660.4 L308.8,660.3 L312.0,660.2 L315.1,660.2 L318.2,660.1 L321.3,660.0 L324.5,659.9 L327.6,659.8 L330.7,659.7 L333.8,659.6 L337.0,659.6 L340.1,659.5 L343.2,659.4 L346.3,659.3 L349.5,659.3 L352.6,659.2 L355.7,659.1 L358.8,659.0 L362.0,658.9 L365.1,658.9 L368.2,658.8 L371.3,658.7 L374.5,658.7 L377.6,658.6 L380.7,658.5 L383.8,658.5 L387.0,658.4 L390.1,658.3 L393.2,658.3 L396.3,658.2 L399.5,658.1 L402.6,658.1 L405.7,658.0 L408.8,657.9 L412.0,657.9 L415.1,657.8 L418.2,657.8 L421.3,657.7 L424.5,657.6 L427.6,657.6 L430.7,657.5 L433.8,657.5 L437.0,657.4 L440.1,657.4 L443.2,657.3 L446.3,657.3 L449.5,657.2 L452.6,657.2 L455.7,657.1 L458.8,657.1 L462.0,657.0 L465.1,657.0 L468.2,656.9 L471.3,656.9 L474.5,656.9 L477.6,656.8 L480.7,656.8 L483.8,656.7 L487.0,656.7 L490.1,656.7 L493.2,656.6 L496.3,656.6 L499.5,656.5 L502.6,656.5 L505.7,656.5 L508.8,656.4 L512.0,656.4 L515.1,656.4 L518.2,656.4 L521.3,656.3 L524.5,656.3 L527.6,656.3 L530.7,656.2 L533.8,656.2 L537.0,656.2 L540.1,656.2 L543.2,656.1 L546.3,656.1 L549.5,656.1 L552.6,656.1 L555.7,656.1 L558.8,656.0 L562.0,656.0 L565.1,656.0 L568.2,656.0 L571.3,656.0 L574.5,655.9 L577.6,655.9 L580.7,655.9 L583.8,655.9 L587.0,655.9 L590.1,655.9 L593.2,655.9 L596.3,655.9 L599.5,655.9 L602.6,655.9 L605.7,655.8 L608.8,655.8 L612.0,655.8 L615.1,655.8 L618.4,655.8 L621.8,655.8 L625.4,655.8 L628.9,655.8 L632.2,655.8 L635.3,655.8 L638.0,655.8 L640.1,655.8 L640.8,655.8 L641.5,655.8 L642.0,655.8 L642.5,655.8 L643.0,655.8 L643.5,655.8 L644.0,655.8 L644.5,655.8" stroke="url(#cg)" stroke-width="4.5" fill="none" stroke-linecap="round" stroke-linejoin="round"/>
<path d="M176.4,380.3 L224.5,423.5" stroke="#1a1a1a" stroke-width="1.3"/>
<path d="M512.7,667.9 L545.3,713.4" stroke="#1a1a1a" stroke-width="1.3"/>
<path d="M482.8,601 V647" stroke="#1a1a1a" stroke-width="1.4"/>
<path d="M482.8,654.5 L480.2,645.5 L485.4,645.5 Z" fill="#1a1a1a"/>
<path d="M482.8,685 V726.5" stroke="#1a1a1a" stroke-width="1.4"/>
<path d="M482.8,677.8 L480.2,686.8 L485.4,686.8 Z" fill="#1a1a1a"/>
<g class="ghost" font-family="Liberation Serif" font-size="17"><text x="684" y="282">Boon</text><text x="680" y="306">ocyn  r  m</text><text x="680" y="338">Zeny  ic</text><text x="681" y="370">ng pun  b</text><text x="688" y="492" font-size="15">ℓ   .....  ,</text></g>
<text x="322.5" y="242.0" font-size="20" text-anchor="start" letter-spacing="-0.6">90 µA</text>
<text x="360.0" y="263.8" font-size="20" text-anchor="start" letter-spacing="-0.6">80 µA</text>
<text x="392.5" y="295.8" font-size="20" text-anchor="start" letter-spacing="-0.6">70 µA</text>
<text x="433.0" y="329.2" font-size="20" text-anchor="start" letter-spacing="-0.6">60 µA</text>
<text x="459.8" y="370.6" font-size="20" text-anchor="start" letter-spacing="-0.6">50 µA</text>
<text x="498.0" y="414.4" font-size="20" text-anchor="start" letter-spacing="-0.6">40 µA</text>
<text x="526.0" y="462.4" font-size="20" text-anchor="start" letter-spacing="-0.6">30 µA</text>
<text x="566.5" y="527.2" font-size="20" text-anchor="start" letter-spacing="-0.6">20 µA</text>
<text x="613.8" y="594.8" font-size="20" text-anchor="start" letter-spacing="-0.6">10 µA</text>
<text x="364.8" y="516.0" font-size="20" text-anchor="start" >(Active region)</text>
<text x="532.3" y="733.0" font-size="20" text-anchor="start" >(Cutoff region)</text>
<text x="25.0" y="376.8" font-size="20" text-anchor="start" >(Saturation region)</text>
<text x="204.5" y="624.1" font-size="20" text-anchor="end" >1</text>
<text x="204.5" y="563.2" font-size="20" text-anchor="end" >2</text>
<text x="204.5" y="501.7" font-size="20" text-anchor="end" >3</text>
<text x="204.5" y="439.9" font-size="20" text-anchor="end" >4</text>
<text x="204.5" y="378.7" font-size="20" text-anchor="end" >5</text>
<text x="204.5" y="316.7" font-size="20" text-anchor="end" >6</text>
<text x="204.5" y="256.4" font-size="20" text-anchor="end" >7</text>
<text x="204.5" y="195.9" font-size="20" text-anchor="end" >8</text>
<text x="205.8" y="700.6" font-size="20" text-anchor="end" >0</text>
<text x="328.0" y="701.0" font-size="20" text-anchor="middle" >5</text>
<text x="445.0" y="699.5" font-size="20" text-anchor="middle" >10</text>
<text x="560.5" y="699.5" font-size="20" text-anchor="middle" >15</text>
<text x="675.5" y="700.9" font-size="20" text-anchor="middle" >20</text>
<text x="218.7" y="161.3" font-size="20"><tspan font-style="italic">I</tspan><tspan font-style="italic" font-size="14" dy="2.5" dx="0.5">C</tspan><tspan dy="-2.5" dx="1"> (mA)</tspan></text>
<text x="700.4" y="705.5" font-size="20"><tspan font-style="italic">V</tspan><tspan font-style="italic" font-size="14" dy="4" dx="-1">CE</tspan><tspan dy="-4" dx="1"> (V)</tspan></text>
<text x="655" y="661" font-size="20"><tspan font-style="italic">I</tspan><tspan font-style="italic" font-size="14" dy="4.8" dx="0.5">B</tspan><tspan dy="-0.5" dx="3.5"> = 0 µA</tspan></text>
<text x="216.5" y="717.5" font-size="20"><tspan font-style="italic">V</tspan><tspan font-style="italic" font-size="14" dy="4" dx="-1.5">CE</tspan><tspan font-size="14.5" dy="6">sat</tspan></text>
<text x="436.3" y="750.8" font-size="20"><tspan font-style="italic">I</tspan><tspan font-style="italic" font-size="14.5" dy="4">CEO</tspan><tspan dy="-4" dx="1" font-size="17">≅ </tspan><tspan font-style="italic">β I</tspan><tspan font-style="italic" font-size="14.5" dy="4">CBO</tspan></text>
</svg>
</body></html>
